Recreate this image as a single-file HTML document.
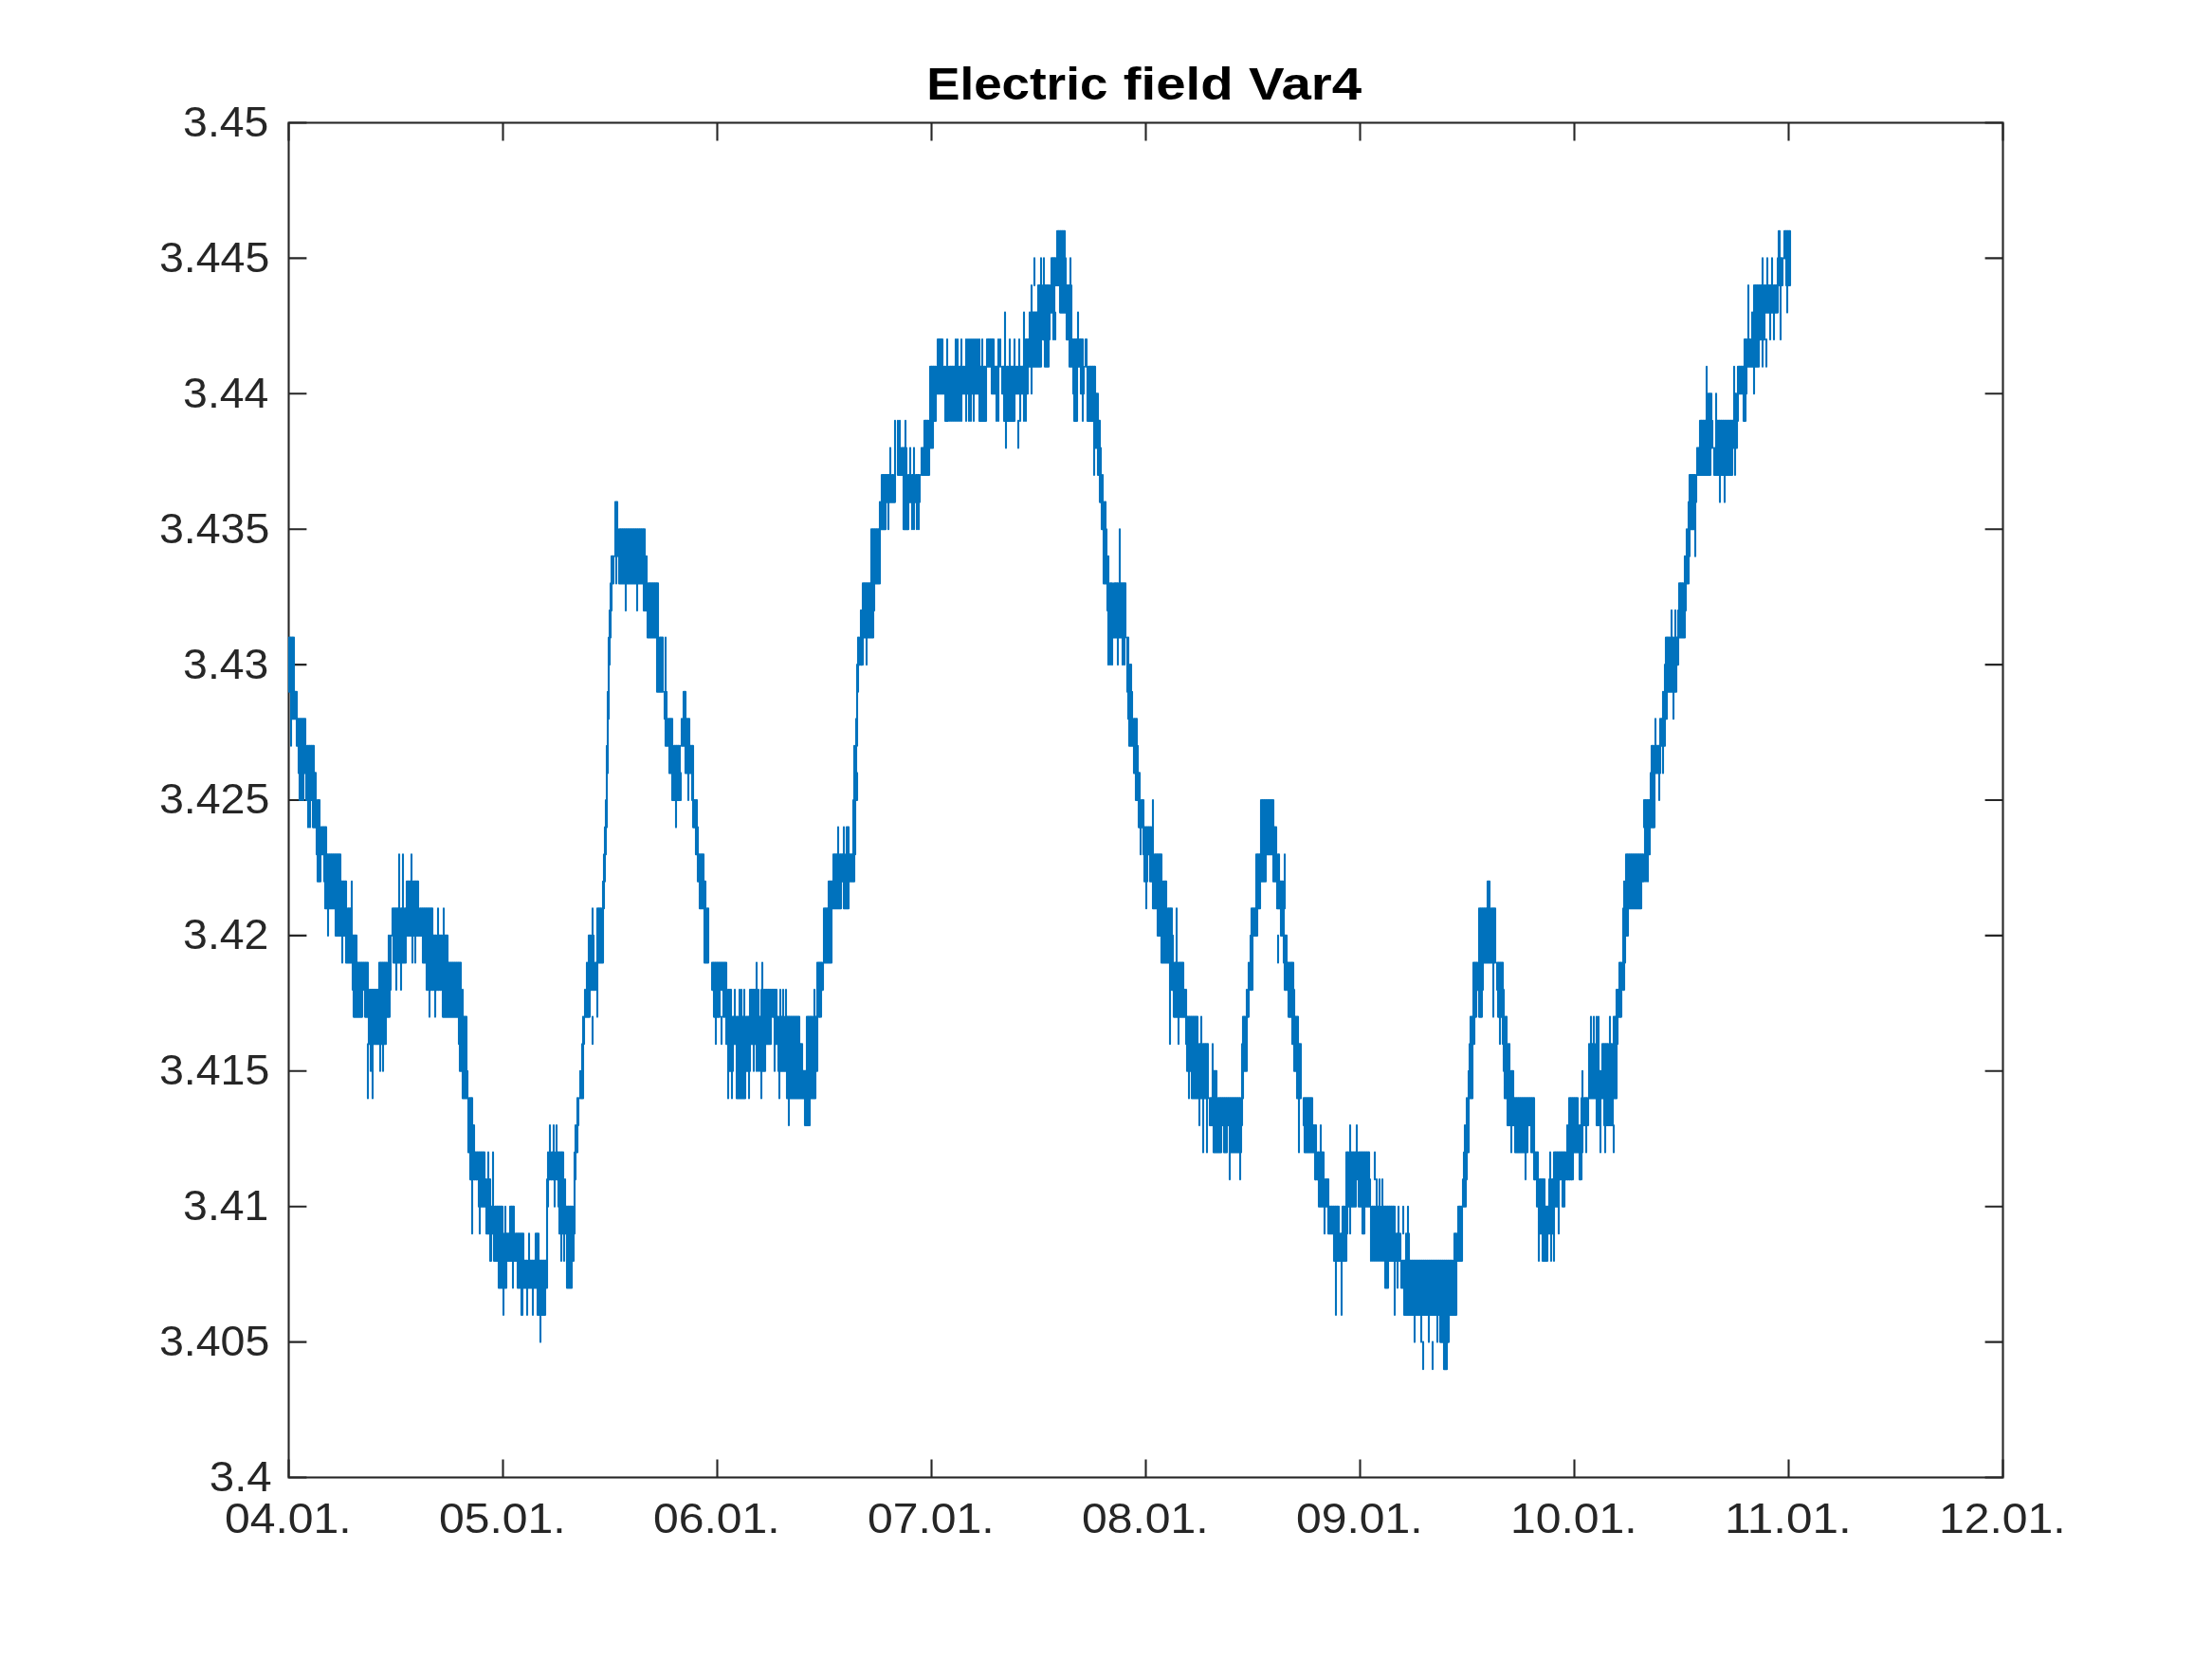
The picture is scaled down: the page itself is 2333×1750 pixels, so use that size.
<!DOCTYPE html>
<html><head><meta charset="utf-8"><title>Electric field Var4</title>
<style>
html,body{margin:0;padding:0;background:#fff;}
body{width:2333px;height:1750px;overflow:hidden;font-family:"Liberation Sans",sans-serif;}
svg{display:block;}
.tl{font-family:"Liberation Sans",sans-serif;font-size:44.5px;fill:#262626;}
.tt{font-family:"Liberation Sans",sans-serif;font-size:48px;font-weight:bold;fill:#000;}
</style></head><body>
<svg width="2333" height="1750" viewBox="0 0 2333 1750">
<rect width="2333" height="1750" fill="#fff"/>
<rect x="304.5" y="129.5" width="1808.0" height="1429.0" fill="none" stroke="#262626" stroke-width="2.1"/>
<path d="M304.5,1558.5v-18.9M304.5,129.5v18.9M530.5,1558.5v-18.9M530.5,129.5v18.9M756.5,1558.5v-18.9M756.5,129.5v18.9M982.5,1558.5v-18.9M982.5,129.5v18.9M1208.5,1558.5v-18.9M1208.5,129.5v18.9M1434.5,1558.5v-18.9M1434.5,129.5v18.9M1660.5,1558.5v-18.9M1660.5,129.5v18.9M1886.5,1558.5v-18.9M1886.5,129.5v18.9M2112.5,1558.5v-18.9M2112.5,129.5v18.9M304.5,1558.5h18.9M2112.5,1558.5h-18.9M304.5,1415.6h18.9M2112.5,1415.6h-18.9M304.5,1272.7h18.9M2112.5,1272.7h-18.9M304.5,1129.8h18.9M2112.5,1129.8h-18.9M304.5,986.9h18.9M2112.5,986.9h-18.9M304.5,844h18.9M2112.5,844h-18.9M304.5,701.1h18.9M2112.5,701.1h-18.9M304.5,558.2h18.9M2112.5,558.2h-18.9M304.5,415.3h18.9M2112.5,415.3h-18.9M304.5,272.4h18.9M2112.5,272.4h-18.9M304.5,129.5h18.9M2112.5,129.5h-18.9" stroke="#262626" stroke-width="2.1" fill="none"/>
<path d="M305,701.1 305,672.5 305,729.7 306,729.7 306,672.5 307,672.5 307,729.7 308,729.7 308,672.5 309,672.5 309,729.7 310,729.7 310,672.5 310,701.1M307,729.7V786.8M308,744 308,729.7 308,758.3 309,758.3 309,729.7 310,729.7 310,758.3 311,758.3 311,729.7 312,729.7 312,758.3 313,758.3 313,729.7 313,744M313,772.5 313,758.3 313,786.8 314,786.8 314,758.3 315,758.3 315,786.8 316,786.8 316,758.3 317,758.3 317,786.8 318,786.8 318,758.3 319,758.3 319,786.8 320,786.8 320,758.3 321,758.3 321,786.8 322,786.8 322,758.3 322,772.5M315,801.1 315,786.8 315,815.4 316,815.4 316,786.8 317,786.8 317,815.4 318,815.4 318,786.8 319,786.8 319,815.4 320,815.4 320,786.8 321,786.8 321,815.4 322,815.4 322,786.8 323,786.8 323,815.4 324,815.4 324,786.8 325,786.8 325,815.4 326,815.4 326,786.8 327,786.8 327,815.4 328,815.4 328,786.8 329,786.8 329,815.4 330,815.4 330,786.8 331,786.8 331,815.4 331,801.1M316,815.4V844M318,815.4V844M320,815.4V844M323,829.7 323,815.4 323,844 324,844 324,815.4 325,815.4 325,844 326,844 326,815.4 327,815.4 327,844 328,844 328,815.4 329,815.4 329,844 330,844 330,815.4 331,815.4 331,844 332,844 332,815.4 333,815.4 333,844 333,829.7M325,844V872.6M327,844V872.6M330,858.3 330,844 330,872.6 331,872.6 331,844 332,844 332,872.6 333,872.6 333,844 334,844 334,872.6 335,872.6 335,844 336,844 336,872.6 337,872.6 337,844 337,858.3M334,886.9 334,872.6 334,901.2 335,901.2 335,872.6 336,872.6 336,901.2 337,901.2 337,872.6 338,872.6 338,901.2 339,901.2 339,872.6 340,872.6 340,901.2 341,901.2 341,872.6 342,872.6 342,901.2 343,901.2 343,872.6 344,872.6 344,901.2 344,886.9M335,915.5 335,901.2 335,929.7 336,929.7 336,901.2 337,901.2 337,929.7 338,929.7 338,901.2 338,915.5M342,915.5 342,901.2 342,929.7 343,929.7 343,901.2 344,901.2 344,929.7 345,929.7 345,901.2 346,901.2 346,929.7 347,929.7 347,901.2 348,901.2 348,929.7 349,929.7 349,901.2 350,901.2 350,929.7 351,929.7 351,901.2 352,901.2 352,929.7 353,929.7 353,901.2 354,901.2 354,929.7 355,929.7 355,901.2 356,901.2 356,929.7 357,929.7 357,901.2 358,901.2 358,929.7 359,929.7 359,901.2 359,915.5M343,944 343,929.7 343,958.3 344,958.3 344,929.7 345,929.7 345,958.3 346,958.3 346,929.7 347,929.7 347,958.3 348,958.3 348,929.7 349,929.7 349,958.3 350,958.3 350,929.7 351,929.7 351,958.3 352,958.3 352,929.7 353,929.7 353,958.3 354,958.3 354,929.7 355,929.7 355,958.3 356,958.3 356,929.7 357,929.7 357,958.3 358,958.3 358,929.7 359,929.7 359,958.3 360,958.3 360,929.7 361,929.7 361,958.3 362,958.3 362,929.7 363,929.7 363,958.3 364,958.3 364,929.7 365,929.7 365,958.3 365,944M371,929.7V986.9M346,958.3V986.9M354,972.6 354,958.3 354,986.9 355,986.9 355,958.3 356,958.3 356,986.9 357,986.9 357,958.3 358,958.3 358,986.9 359,986.9 359,958.3 360,958.3 360,986.9 361,986.9 361,958.3 362,958.3 362,986.9 363,986.9 363,958.3 364,958.3 364,986.9 365,986.9 365,958.3 366,958.3 366,986.9 367,986.9 367,958.3 368,958.3 368,986.9 369,986.9 369,958.3 370,958.3 370,986.9 370,972.6M361,986.9V1015.5M365,1001.2 365,986.9 365,1015.5 366,1015.5 366,986.9 367,986.9 367,1015.5 368,1015.5 368,986.9 369,986.9 369,1015.5 370,1015.5 370,986.9 371,986.9 371,1015.5 372,1015.5 372,986.9 373,986.9 373,1015.5 374,1015.5 374,986.9 375,986.9 375,1015.5 376,1015.5 376,986.9 376,1001.2M372,1029.8 372,1015.5 372,1044.1 373,1044.1 373,1015.5 374,1015.5 374,1044.1 375,1044.1 375,1015.5 376,1015.5 376,1044.1 377,1044.1 377,1015.5 378,1015.5 378,1044.1 379,1044.1 379,1015.5 380,1015.5 380,1044.1 381,1044.1 381,1015.5 382,1015.5 382,1044.1 383,1044.1 383,1015.5 384,1015.5 384,1044.1 385,1044.1 385,1015.5 386,1015.5 386,1044.1 387,1044.1 387,1015.5 388,1015.5 388,1044.1 388,1029.8M373,1058.3 373,1044.1 373,1072.6 374,1072.6 374,1044.1 375,1044.1 375,1072.6 376,1072.6 376,1044.1 377,1044.1 377,1072.6 378,1072.6 378,1044.1 379,1044.1 379,1072.6 380,1072.6 380,1044.1 381,1044.1 381,1072.6 382,1072.6 382,1044.1 382,1058.3M385,1058.3 385,1044.1 385,1072.6 386,1072.6 386,1044.1 387,1044.1 387,1072.6 388,1072.6 388,1044.1 389,1044.1 389,1072.6 390,1072.6 390,1044.1 391,1044.1 391,1072.6 392,1072.6 392,1044.1 393,1044.1 393,1072.6 394,1072.6 394,1044.1 395,1044.1 395,1072.6 396,1072.6 396,1044.1 397,1044.1 397,1072.6 398,1072.6 398,1044.1 399,1044.1 399,1072.6 400,1072.6 400,1044.1 401,1044.1 401,1072.6 402,1072.6 402,1044.1 403,1044.1 403,1072.6 404,1072.6 404,1044.1 405,1044.1 405,1072.6 406,1072.6 406,1044.1 407,1044.1 407,1072.6 408,1072.6 408,1044.1 409,1044.1 409,1072.6 410,1072.6 410,1044.1 411,1044.1 411,1072.6 411,1058.3M389,1086.9 389,1072.6 389,1101.2 390,1101.2 390,1072.6 391,1072.6 391,1101.2 392,1101.2 392,1072.6 393,1072.6 393,1101.2 394,1101.2 394,1072.6 395,1072.6 395,1101.2 396,1101.2 396,1072.6 397,1072.6 397,1101.2 398,1101.2 398,1072.6 399,1072.6 399,1101.2 400,1101.2 400,1072.6 401,1072.6 401,1101.2 402,1101.2 402,1072.6 403,1072.6 403,1101.2 404,1101.2 404,1072.6 405,1072.6 405,1101.2 406,1101.2 406,1072.6 407,1072.6 407,1101.2 407,1086.9M388,1101.2V1158.4M391,1101.2V1129.8M393,1101.2V1158.4M401,1101.2V1129.8M404,1101.2V1129.8M400,1029.8 400,1015.5 400,1044.1 401,1044.1 401,1015.5 402,1015.5 402,1044.1 403,1044.1 403,1015.5 404,1015.5 404,1044.1 405,1044.1 405,1015.5 406,1015.5 406,1044.1 407,1044.1 407,1015.5 408,1015.5 408,1044.1 409,1044.1 409,1015.5 410,1015.5 410,1044.1 411,1044.1 411,1015.5 412,1015.5 412,1044.1 412,1029.8M410,986.9V1015.5M412,986.9V1015.5M415,1001.2 415,986.9 415,1015.5 416,1015.5 416,986.9 417,986.9 417,1015.5 418,1015.5 418,986.9 419,986.9 419,1015.5 420,1015.5 420,986.9 421,986.9 421,1015.5 422,1015.5 422,986.9 423,986.9 423,1015.5 424,1015.5 424,986.9 425,986.9 425,1015.5 426,1015.5 426,986.9 427,986.9 427,1015.5 428,1015.5 428,986.9 428,1001.2M414,972.6 414,958.3 414,986.9 415,986.9 415,958.3 416,958.3 416,986.9 417,986.9 417,958.3 418,958.3 418,986.9 419,986.9 419,958.3 420,958.3 420,986.9 421,986.9 421,958.3 422,958.3 422,986.9 423,986.9 423,958.3 424,958.3 424,986.9 425,986.9 425,958.3 426,958.3 426,986.9 427,986.9 427,958.3 428,958.3 428,986.9 429,986.9 429,958.3 430,958.3 430,986.9 431,986.9 431,958.3 432,958.3 432,986.9 433,986.9 433,958.3 434,958.3 434,986.9 435,986.9 435,958.3 436,958.3 436,986.9 437,986.9 437,958.3 438,958.3 438,986.9 439,986.9 439,958.3 440,958.3 440,986.9 441,986.9 441,958.3 442,958.3 442,986.9 443,986.9 443,958.3 444,958.3 444,986.9 445,986.9 445,958.3 446,958.3 446,986.9 447,986.9 447,958.3 448,958.3 448,986.9 449,986.9 449,958.3 450,958.3 450,986.9 451,986.9 451,958.3 452,958.3 452,986.9 453,986.9 453,958.3 454,958.3 454,986.9 455,986.9 455,958.3 456,958.3 456,986.9 456,972.6M418,1015.5V1044.1M423,1015.5V1044.1M421,901.2V958.3M425,901.2V958.3M434,901.2V958.3M429,944 429,929.7 429,958.3 430,958.3 430,929.7 431,929.7 431,958.3 432,958.3 432,929.7 433,929.7 433,958.3 434,958.3 434,929.7 435,929.7 435,958.3 436,958.3 436,929.7 437,929.7 437,958.3 438,958.3 438,929.7 439,929.7 439,958.3 440,958.3 440,929.7 441,929.7 441,958.3 441,944M435,986.9V1015.5M438,986.9V1015.5M446,1001.2 446,986.9 446,1015.5 447,1015.5 447,986.9 448,986.9 448,1015.5 449,1015.5 449,986.9 450,986.9 450,1015.5 451,1015.5 451,986.9 452,986.9 452,1015.5 453,1015.5 453,986.9 454,986.9 454,1015.5 455,1015.5 455,986.9 456,986.9 456,1015.5 457,1015.5 457,986.9 458,986.9 458,1015.5 459,1015.5 459,986.9 460,986.9 460,1015.5 461,1015.5 461,986.9 462,986.9 462,1015.5 463,1015.5 463,986.9 464,986.9 464,1015.5 465,1015.5 465,986.9 466,986.9 466,1015.5 467,1015.5 467,986.9 468,986.9 468,1015.5 469,1015.5 469,986.9 470,986.9 470,1015.5 471,1015.5 471,986.9 472,986.9 472,1015.5 472,1001.2M462,958.3V986.9M468,958.3V986.9M450,1029.8 450,1015.5 450,1044.1 451,1044.1 451,1015.5 452,1015.5 452,1044.1 453,1044.1 453,1015.5 454,1015.5 454,1044.1 455,1044.1 455,1015.5 456,1015.5 456,1044.1 457,1044.1 457,1015.5 458,1015.5 458,1044.1 459,1044.1 459,1015.5 460,1015.5 460,1044.1 461,1044.1 461,1015.5 462,1015.5 462,1044.1 463,1044.1 463,1015.5 464,1015.5 464,1044.1 465,1044.1 465,1015.5 466,1015.5 466,1044.1 467,1044.1 467,1015.5 468,1015.5 468,1044.1 469,1044.1 469,1015.5 470,1015.5 470,1044.1 471,1044.1 471,1015.5 472,1015.5 472,1044.1 473,1044.1 473,1015.5 474,1015.5 474,1044.1 475,1044.1 475,1015.5 476,1015.5 476,1044.1 477,1044.1 477,1015.5 478,1015.5 478,1044.1 479,1044.1 479,1015.5 480,1015.5 480,1044.1 481,1044.1 481,1015.5 482,1015.5 482,1044.1 483,1044.1 483,1015.5 484,1015.5 484,1044.1 485,1044.1 485,1015.5 486,1015.5 486,1044.1 486,1029.8M453,1044.1V1072.6M459,1044.1V1072.6M467,1058.3 467,1044.1 467,1072.6 468,1072.6 468,1044.1 469,1044.1 469,1072.6 470,1072.6 470,1044.1 471,1044.1 471,1072.6 472,1072.6 472,1044.1 473,1044.1 473,1072.6 474,1072.6 474,1044.1 475,1044.1 475,1072.6 476,1072.6 476,1044.1 477,1044.1 477,1072.6 478,1072.6 478,1044.1 479,1044.1 479,1072.6 480,1072.6 480,1044.1 481,1044.1 481,1072.6 482,1072.6 482,1044.1 483,1044.1 483,1072.6 484,1072.6 484,1044.1 485,1044.1 485,1072.6 486,1072.6 486,1044.1 487,1044.1 487,1072.6 488,1072.6 488,1044.1 488,1058.3M484,1086.9 484,1072.6 484,1101.2 485,1101.2 485,1072.6 486,1072.6 486,1101.2 487,1101.2 487,1072.6 488,1072.6 488,1101.2 489,1101.2 489,1072.6 490,1072.6 490,1101.2 491,1101.2 491,1072.6 492,1072.6 492,1101.2 492,1086.9M485,1115.5 485,1101.2 485,1129.8 486,1129.8 486,1101.2 487,1101.2 487,1129.8 488,1129.8 488,1101.2 489,1101.2 489,1129.8 490,1129.8 490,1101.2 491,1101.2 491,1129.8 492,1129.8 492,1101.2 492,1115.5M488,1144.1 488,1129.8 488,1158.4 489,1158.4 489,1129.8 490,1129.8 490,1158.4 491,1158.4 491,1129.8 492,1129.8 492,1158.4 493,1158.4 493,1129.8 493,1144.1M494,1172.7 494,1158.4 494,1187 495,1187 495,1158.4 496,1158.4 496,1187 497,1187 497,1158.4 498,1158.4 498,1187 498,1172.7M494,1201.2 494,1187 494,1215.5 495,1215.5 495,1187 496,1187 496,1215.5 497,1215.5 497,1187 498,1187 498,1215.5 499,1215.5 499,1187 500,1187 500,1215.5 500,1201.2M496,1229.8 496,1215.5 496,1244.1 497,1244.1 497,1215.5 498,1215.5 498,1244.1 499,1244.1 499,1215.5 500,1215.5 500,1244.1 501,1244.1 501,1215.5 502,1215.5 502,1244.1 503,1244.1 503,1215.5 504,1215.5 504,1244.1 505,1244.1 505,1215.5 506,1215.5 506,1244.1 507,1244.1 507,1215.5 508,1215.5 508,1244.1 509,1244.1 509,1215.5 510,1215.5 510,1244.1 511,1244.1 511,1215.5 511,1229.8M515,1215.5V1244.1M520,1215.5V1272.7M498,1244.1V1301.3M506,1244.1V1301.3M505,1258.4 505,1244.1 505,1272.7 506,1272.7 506,1244.1 507,1244.1 507,1272.7 508,1272.7 508,1244.1 509,1244.1 509,1272.7 510,1272.7 510,1244.1 511,1244.1 511,1272.7 512,1272.7 512,1244.1 513,1244.1 513,1272.7 514,1272.7 514,1244.1 515,1244.1 515,1272.7 516,1272.7 516,1244.1 517,1244.1 517,1272.7 517,1258.4M513,1287 513,1272.7 513,1301.3 514,1301.3 514,1272.7 515,1272.7 515,1301.3 516,1301.3 516,1272.7 517,1272.7 517,1301.3 518,1301.3 518,1272.7 519,1272.7 519,1301.3 520,1301.3 520,1272.7 521,1272.7 521,1301.3 522,1301.3 522,1272.7 523,1272.7 523,1301.3 524,1301.3 524,1272.7 525,1272.7 525,1301.3 526,1301.3 526,1272.7 527,1272.7 527,1301.3 528,1301.3 528,1272.7 529,1272.7 529,1301.3 530,1301.3 530,1272.7 530,1287M533,1272.7V1301.3M538,1287 538,1272.7 538,1301.3 539,1301.3 539,1272.7 540,1272.7 540,1301.3 541,1301.3 541,1272.7 542,1272.7 542,1301.3 542,1287M517,1315.6 517,1301.3 517,1329.9 518,1329.9 518,1301.3 518,1315.6M521,1315.6 521,1301.3 521,1329.9 522,1329.9 522,1301.3 523,1301.3 523,1329.9 524,1329.9 524,1301.3 525,1301.3 525,1329.9 526,1329.9 526,1301.3 527,1301.3 527,1329.9 528,1329.9 528,1301.3 529,1301.3 529,1329.9 530,1329.9 530,1301.3 531,1301.3 531,1329.9 532,1329.9 532,1301.3 533,1301.3 533,1329.9 534,1329.9 534,1301.3 535,1301.3 535,1329.9 536,1329.9 536,1301.3 537,1301.3 537,1329.9 538,1329.9 538,1301.3 539,1301.3 539,1329.9 540,1329.9 540,1301.3 541,1301.3 541,1329.9 542,1329.9 542,1301.3 543,1301.3 543,1329.9 544,1329.9 544,1301.3 545,1301.3 545,1329.9 546,1329.9 546,1301.3 547,1301.3 547,1329.9 548,1329.9 548,1301.3 549,1301.3 549,1329.9 550,1329.9 550,1301.3 551,1301.3 551,1329.9 552,1329.9 552,1301.3 552,1315.6M558,1301.3V1329.9M565,1315.6 565,1301.3 565,1329.9 566,1329.9 566,1301.3 567,1301.3 567,1329.9 568,1329.9 568,1301.3 568,1315.6M526,1344.2 526,1329.9 526,1358.4 527,1358.4 527,1329.9 528,1329.9 528,1358.4 529,1358.4 529,1329.9 530,1329.9 530,1358.4 531,1358.4 531,1329.9 532,1329.9 532,1358.4 533,1358.4 533,1329.9 534,1329.9 534,1358.4 534,1344.2M541,1329.9V1358.4M546,1344.2 546,1329.9 546,1358.4 547,1358.4 547,1329.9 548,1329.9 548,1358.4 549,1358.4 549,1329.9 550,1329.9 550,1358.4 551,1358.4 551,1329.9 552,1329.9 552,1358.4 553,1358.4 553,1329.9 554,1329.9 554,1358.4 555,1358.4 555,1329.9 556,1329.9 556,1358.4 557,1358.4 557,1329.9 558,1329.9 558,1358.4 559,1358.4 559,1329.9 560,1329.9 560,1358.4 561,1358.4 561,1329.9 562,1329.9 562,1358.4 563,1358.4 563,1329.9 564,1329.9 564,1358.4 565,1358.4 565,1329.9 566,1329.9 566,1358.4 567,1358.4 567,1329.9 568,1329.9 568,1358.4 569,1358.4 569,1329.9 570,1329.9 570,1358.4 571,1358.4 571,1329.9 572,1329.9 572,1358.4 573,1358.4 573,1329.9 574,1329.9 574,1358.4 575,1358.4 575,1329.9 576,1329.9 576,1358.4 577,1358.4 577,1329.9 577,1344.2M531,1358.4V1387M550,1372.7 550,1358.4 550,1387 551,1387 551,1358.4 551,1372.7M556,1358.4V1387M562,1358.4V1387M567,1372.7 567,1358.4 567,1387 568,1387 568,1358.4 569,1358.4 569,1387 570,1387 570,1358.4 571,1358.4 571,1387 572,1387 572,1358.4 573,1358.4 573,1387 574,1387 574,1358.4 575,1358.4 575,1387 575,1372.7M570,1387V1415.6M577,1301.3 577,1272.7 577,1329.9 577,1301.3M577,1258.4 577,1244.1 577,1272.7 578,1272.7 578,1244.1 578,1258.4M578,1229.8 578,1215.5 578,1244.1 578,1229.8M579,1229.8 579,1215.5 579,1244.1 580,1244.1 580,1215.5 581,1215.5 581,1244.1 582,1244.1 582,1215.5 583,1215.5 583,1244.1 584,1244.1 584,1215.5 585,1215.5 585,1244.1 586,1244.1 586,1215.5 587,1215.5 587,1244.1 588,1244.1 588,1215.5 589,1215.5 589,1244.1 590,1244.1 590,1215.5 591,1215.5 591,1244.1 592,1244.1 592,1215.5 593,1215.5 593,1244.1 594,1244.1 594,1215.5 594,1229.8M580,1187V1215.5M584,1187V1215.5M587,1187V1215.5M585,1244.1V1272.7M589,1258.4 589,1244.1 589,1272.7 590,1272.7 590,1244.1 591,1244.1 591,1272.7 592,1272.7 592,1244.1 593,1244.1 593,1272.7 594,1272.7 594,1244.1 595,1244.1 595,1272.7 596,1272.7 596,1244.1 596,1258.4M590,1287 590,1272.7 590,1301.3 591,1301.3 591,1272.7 592,1272.7 592,1301.3 593,1301.3 593,1272.7 594,1272.7 594,1301.3 595,1301.3 595,1272.7 596,1272.7 596,1301.3 597,1301.3 597,1272.7 598,1272.7 598,1301.3 599,1301.3 599,1272.7 600,1272.7 600,1301.3 601,1301.3 601,1272.7 602,1272.7 602,1301.3 603,1301.3 603,1272.7 604,1272.7 604,1301.3 605,1301.3 605,1272.7 606,1272.7 606,1301.3 606,1287M592,1301.3V1329.9M595,1301.3V1329.9M598,1315.6 598,1301.3 598,1329.9 599,1329.9 599,1301.3 600,1301.3 600,1329.9 601,1329.9 601,1301.3 602,1301.3 602,1329.9 603,1329.9 603,1301.3 604,1301.3 604,1329.9 605,1329.9 605,1301.3 605,1315.6M598,1344.2 598,1329.9 598,1358.4 599,1358.4 599,1329.9 600,1329.9 600,1358.4 601,1358.4 601,1329.9 602,1329.9 602,1358.4 603,1358.4 603,1329.9 603,1344.2M606,1258.4 606,1244.1 606,1272.7 606,1258.4M606,1229.8 606,1215.5 606,1244.1 607,1244.1 607,1215.5 607,1229.8M607,1201.2 607,1187 607,1215.5 608,1215.5 608,1187 609,1187 609,1215.5 609,1201.2M609,1172.7 609,1158.4 609,1187 610,1187 610,1158.4 610,1172.7M612,1144.1 612,1129.8 612,1158.4 613,1158.4 613,1129.8 614,1129.8 614,1158.4 615,1158.4 615,1129.8 615,1144.1M614,1115.5 614,1101.2 614,1129.8 615,1129.8 615,1101.2 615,1115.5M615,1086.9 615,1072.6 615,1101.2 616,1101.2 616,1072.6 616,1086.9M617,1058.3 617,1044.1 617,1072.6 618,1072.6 618,1044.1 619,1044.1 619,1072.6 620,1072.6 620,1044.1 621,1044.1 621,1072.6 622,1072.6 622,1044.1 622,1058.3M619,1029.8 619,1015.5 619,1044.1 620,1044.1 620,1015.5 621,1015.5 621,1044.1 622,1044.1 622,1015.5 623,1015.5 623,1044.1 624,1044.1 624,1015.5 625,1015.5 625,1044.1 626,1044.1 626,1015.5 627,1015.5 627,1044.1 628,1044.1 628,1015.5 629,1015.5 629,1044.1 630,1044.1 630,1015.5 630,1029.8M625,1072.6V1101.2M630,1044.1V1072.6M621,1001.2 621,986.9 621,1015.5 622,1015.5 622,986.9 623,986.9 623,1015.5 624,1015.5 624,986.9 625,986.9 625,1015.5 626,1015.5 626,986.9 626,1001.2M625,958.3V986.9M630,986.9 630,958.3 630,1015.5 631,1015.5 631,958.3 632,958.3 632,1015.5 633,1015.5 633,958.3 634,958.3 634,1015.5 635,1015.5 635,958.3 636,958.3 636,1015.5 636,986.9M636,944 636,929.7 636,958.3 637,958.3 637,929.7 637,944M637,915.5 637,901.2 637,929.7 638,929.7 638,901.2 638,915.5M638,886.9 638,872.6 638,901.2 639,901.2 639,872.6 639,886.9M639,858.3 639,844 639,872.6 640,872.6 640,844 640,858.3M640,829.7 640,815.4 640,844 640,829.7M640,801.1 640,786.8 640,815.4 641,815.4 641,786.8 641,801.1M641,772.5 641,758.3 641,786.8 641,772.5M641,744 641,729.7 641,758.3 642,758.3 642,729.7 642,744M642,715.4 642,701.1 642,729.7 642,715.4M642,686.8 642,672.5 642,701.1 643,701.1 643,672.5 643,686.8M643,658.2 643,643.9 643,672.5 644,672.5 644,643.9 644,658.2M644,629.7 644,615.4 644,643.9 645,643.9 645,615.4 645,629.7M645,601.1 645,586.8 645,615.4 646,615.4 646,586.8 647,586.8 647,615.4 647,601.1M649,558.2 649,529.6 649,586.8 650,586.8 650,529.6 651,529.6 651,586.8 651,558.2M650,586.8V615.4M653,586.8 653,558.2 653,615.4 654,615.4 654,558.2 655,558.2 655,615.4 656,615.4 656,558.2 657,558.2 657,615.4 658,615.4 658,558.2 659,558.2 659,615.4 660,615.4 660,558.2 661,558.2 661,615.4 662,615.4 662,558.2 663,558.2 663,615.4 664,615.4 664,558.2 665,558.2 665,615.4 666,615.4 666,558.2 667,558.2 667,615.4 668,615.4 668,558.2 669,558.2 669,615.4 670,615.4 670,558.2 671,558.2 671,615.4 672,615.4 672,558.2 673,558.2 673,615.4 674,615.4 674,558.2 675,558.2 675,615.4 676,615.4 676,558.2 677,558.2 677,615.4 678,615.4 678,558.2 679,558.2 679,615.4 680,615.4 680,558.2 680,586.8M660,615.4V643.9M672,615.4V643.9M679,615.4 679,586.8 679,643.9 680,643.9 680,586.8 681,586.8 681,643.9 682,643.9 682,586.8 682,615.4M683,643.9 683,615.4 683,672.5 684,672.5 684,615.4 685,615.4 685,672.5 686,672.5 686,615.4 687,615.4 687,672.5 688,672.5 688,615.4 689,615.4 689,672.5 690,672.5 690,615.4 691,615.4 691,672.5 692,672.5 692,615.4 693,615.4 693,672.5 694,672.5 694,615.4 694,643.9M693,701.1 693,672.5 693,729.7 694,729.7 694,672.5 695,672.5 695,729.7 696,729.7 696,672.5 697,672.5 697,729.7 698,729.7 698,672.5 699,672.5 699,729.7 699,701.1M702,672.5V729.7M701,744 701,729.7 701,758.3 702,758.3 702,729.7 703,729.7 703,758.3 703,744M702,772.5 702,758.3 702,786.8 703,786.8 703,758.3 704,758.3 704,786.8 705,786.8 705,758.3 706,758.3 706,786.8 707,786.8 707,758.3 708,758.3 708,786.8 709,786.8 709,758.3 709,772.5M706,801.1 706,786.8 706,815.4 707,815.4 707,786.8 708,786.8 708,815.4 709,815.4 709,786.8 710,786.8 710,815.4 711,815.4 711,786.8 712,786.8 712,815.4 713,815.4 713,786.8 714,786.8 714,815.4 715,815.4 715,786.8 716,786.8 716,815.4 717,815.4 717,786.8 717,801.1M721,744 721,729.7 721,758.3 722,758.3 722,729.7 723,729.7 723,758.3 723,744M719,772.5 719,758.3 719,786.8 720,786.8 720,758.3 721,758.3 721,786.8 722,786.8 722,758.3 723,758.3 723,786.8 724,786.8 724,758.3 725,758.3 725,786.8 726,786.8 726,758.3 727,758.3 727,786.8 727,772.5M723,801.1 723,786.8 723,815.4 724,815.4 724,786.8 725,786.8 725,815.4 726,815.4 726,786.8 727,786.8 727,815.4 728,815.4 728,786.8 729,786.8 729,815.4 730,815.4 730,786.8 731,786.8 731,815.4 731,801.1M709,829.7 709,815.4 709,844 710,844 710,815.4 711,815.4 711,844 712,844 712,815.4 713,815.4 713,844 714,844 714,815.4 715,815.4 715,844 716,844 716,815.4 717,815.4 717,844 718,844 718,815.4 718,829.7M713,844V872.6M726,815.4V844M730,829.7 730,815.4 730,844 731,844 731,815.4 731,829.7M731,858.3 731,844 731,872.6 732,872.6 732,844 733,844 733,872.6 734,872.6 734,844 735,844 735,872.6 735,858.3M734,886.9 734,872.6 734,901.2 735,901.2 735,872.6 736,872.6 736,901.2 736,886.9M736,915.5 736,901.2 736,929.7 737,929.7 737,901.2 738,901.2 738,929.7 739,929.7 739,901.2 740,901.2 740,929.7 741,929.7 741,901.2 742,901.2 742,929.7 742,915.5M738,944 738,929.7 738,958.3 739,958.3 739,929.7 740,929.7 740,958.3 741,958.3 741,929.7 742,929.7 742,958.3 743,958.3 743,929.7 744,929.7 744,958.3 744,944M743,986.9 743,958.3 743,1015.5 744,1015.5 744,958.3 745,958.3 745,1015.5 746,1015.5 746,958.3 747,958.3 747,1015.5 747,986.9M751,1029.8 751,1015.5 751,1044.1 752,1044.1 752,1015.5 753,1015.5 753,1044.1 754,1044.1 754,1015.5 755,1015.5 755,1044.1 756,1044.1 756,1015.5 757,1015.5 757,1044.1 758,1044.1 758,1015.5 759,1015.5 759,1044.1 760,1044.1 760,1015.5 761,1015.5 761,1044.1 762,1044.1 762,1015.5 763,1015.5 763,1044.1 764,1044.1 764,1015.5 765,1015.5 765,1044.1 766,1044.1 766,1015.5 766,1029.8M753,1058.3 753,1044.1 753,1072.6 754,1072.6 754,1044.1 755,1044.1 755,1072.6 756,1072.6 756,1044.1 757,1044.1 757,1072.6 758,1072.6 758,1044.1 759,1044.1 759,1072.6 759,1058.3M763,1058.3 763,1044.1 763,1072.6 764,1072.6 764,1044.1 765,1044.1 765,1072.6 766,1072.6 766,1044.1 767,1044.1 767,1072.6 768,1072.6 768,1044.1 769,1044.1 769,1072.6 770,1072.6 770,1044.1 771,1044.1 771,1072.6 771,1058.3M775,1044.1V1072.6M780,1044.1V1072.6M782,1044.1V1072.6M785,1044.1V1072.6M791,1058.3 791,1044.1 791,1072.6 792,1072.6 792,1044.1 793,1044.1 793,1072.6 794,1072.6 794,1044.1 795,1044.1 795,1072.6 796,1072.6 796,1044.1 797,1044.1 797,1072.6 798,1072.6 798,1044.1 799,1044.1 799,1072.6 800,1072.6 800,1044.1 800,1058.3M803,1058.3 803,1044.1 803,1072.6 804,1072.6 804,1044.1 805,1044.1 805,1072.6 806,1072.6 806,1044.1 807,1044.1 807,1072.6 808,1072.6 808,1044.1 809,1044.1 809,1072.6 810,1072.6 810,1044.1 811,1044.1 811,1072.6 812,1072.6 812,1044.1 813,1044.1 813,1072.6 814,1072.6 814,1044.1 815,1044.1 815,1072.6 816,1072.6 816,1044.1 817,1044.1 817,1072.6 818,1072.6 818,1044.1 819,1044.1 819,1072.6 819,1058.3M823,1044.1V1072.6M826,1044.1V1072.6M829,1044.1V1072.6M798,1015.5V1044.1M804,1015.5V1044.1M755,1072.6V1101.2M761,1072.6V1101.2M766,1086.9 766,1072.6 766,1101.2 767,1101.2 767,1072.6 768,1072.6 768,1101.2 769,1101.2 769,1072.6 770,1072.6 770,1101.2 771,1101.2 771,1072.6 772,1072.6 772,1101.2 773,1101.2 773,1072.6 774,1072.6 774,1101.2 775,1101.2 775,1072.6 776,1072.6 776,1101.2 777,1101.2 777,1072.6 778,1072.6 778,1101.2 779,1101.2 779,1072.6 780,1072.6 780,1101.2 781,1101.2 781,1072.6 782,1072.6 782,1101.2 783,1101.2 783,1072.6 784,1072.6 784,1101.2 785,1101.2 785,1072.6 786,1072.6 786,1101.2 787,1101.2 787,1072.6 788,1072.6 788,1101.2 789,1101.2 789,1072.6 790,1072.6 790,1101.2 791,1101.2 791,1072.6 792,1072.6 792,1101.2 793,1101.2 793,1072.6 794,1072.6 794,1101.2 795,1101.2 795,1072.6 796,1072.6 796,1101.2 797,1101.2 797,1072.6 798,1072.6 798,1101.2 799,1101.2 799,1072.6 800,1072.6 800,1101.2 801,1101.2 801,1072.6 802,1072.6 802,1101.2 803,1101.2 803,1072.6 804,1072.6 804,1101.2 805,1101.2 805,1072.6 806,1072.6 806,1101.2 807,1101.2 807,1072.6 808,1072.6 808,1101.2 809,1101.2 809,1072.6 810,1072.6 810,1101.2 811,1101.2 811,1072.6 812,1072.6 812,1101.2 813,1101.2 813,1072.6 813,1086.9M817,1086.9 817,1072.6 817,1101.2 818,1101.2 818,1072.6 819,1072.6 819,1101.2 820,1101.2 820,1072.6 821,1072.6 821,1101.2 822,1101.2 822,1072.6 823,1072.6 823,1101.2 824,1101.2 824,1072.6 825,1072.6 825,1101.2 826,1101.2 826,1072.6 827,1072.6 827,1101.2 828,1101.2 828,1072.6 829,1072.6 829,1101.2 830,1101.2 830,1072.6 831,1072.6 831,1101.2 832,1101.2 832,1072.6 833,1072.6 833,1101.2 834,1101.2 834,1072.6 835,1072.6 835,1101.2 836,1101.2 836,1072.6 837,1072.6 837,1101.2 838,1101.2 838,1072.6 839,1072.6 839,1101.2 840,1101.2 840,1072.6 841,1072.6 841,1101.2 842,1101.2 842,1072.6 843,1072.6 843,1101.2 843,1086.9M768,1115.5 768,1101.2 768,1129.8 769,1129.8 769,1101.2 770,1101.2 770,1129.8 771,1129.8 771,1101.2 772,1101.2 772,1129.8 773,1129.8 773,1101.2 773,1115.5M777,1115.5 777,1101.2 777,1129.8 778,1129.8 778,1101.2 779,1101.2 779,1129.8 780,1129.8 780,1101.2 781,1101.2 781,1129.8 782,1129.8 782,1101.2 783,1101.2 783,1129.8 784,1129.8 784,1101.2 785,1101.2 785,1129.8 786,1129.8 786,1101.2 787,1101.2 787,1129.8 788,1129.8 788,1101.2 789,1101.2 789,1129.8 790,1129.8 790,1101.2 791,1101.2 791,1129.8 791,1115.5M795,1101.2V1129.8M798,1101.2V1129.8M800,1101.2V1129.8M802,1115.5 802,1101.2 802,1129.8 803,1129.8 803,1101.2 804,1101.2 804,1129.8 805,1129.8 805,1101.2 806,1101.2 806,1129.8 807,1129.8 807,1101.2 807,1115.5M817,1101.2V1129.8M821,1115.5 821,1101.2 821,1129.8 822,1129.8 822,1101.2 823,1101.2 823,1129.8 824,1129.8 824,1101.2 825,1101.2 825,1129.8 826,1129.8 826,1101.2 827,1101.2 827,1129.8 828,1129.8 828,1101.2 829,1101.2 829,1129.8 830,1129.8 830,1101.2 831,1101.2 831,1129.8 832,1129.8 832,1101.2 833,1101.2 833,1129.8 834,1129.8 834,1101.2 835,1101.2 835,1129.8 836,1129.8 836,1101.2 837,1101.2 837,1129.8 838,1129.8 838,1101.2 839,1101.2 839,1129.8 840,1129.8 840,1101.2 841,1101.2 841,1129.8 842,1129.8 842,1101.2 843,1101.2 843,1129.8 844,1129.8 844,1101.2 845,1101.2 845,1129.8 846,1129.8 846,1101.2 846,1115.5M768,1129.8V1158.4M772,1129.8V1158.4M777,1144.1 777,1129.8 777,1158.4 778,1158.4 778,1129.8 779,1129.8 779,1158.4 780,1158.4 780,1129.8 781,1129.8 781,1158.4 782,1158.4 782,1129.8 783,1129.8 783,1158.4 784,1158.4 784,1129.8 785,1129.8 785,1158.4 786,1158.4 786,1129.8 786,1144.1M790,1129.8V1158.4M803,1129.8V1158.4M822,1129.8V1158.4M830,1144.1 830,1129.8 830,1158.4 831,1158.4 831,1129.8 832,1129.8 832,1158.4 833,1158.4 833,1129.8 834,1129.8 834,1158.4 835,1158.4 835,1129.8 836,1129.8 836,1158.4 837,1158.4 837,1129.8 838,1129.8 838,1158.4 839,1158.4 839,1129.8 840,1129.8 840,1158.4 841,1158.4 841,1129.8 842,1129.8 842,1158.4 843,1158.4 843,1129.8 844,1129.8 844,1158.4 845,1158.4 845,1129.8 846,1129.8 846,1158.4 847,1158.4 847,1129.8 848,1129.8 848,1158.4 849,1158.4 849,1129.8 850,1129.8 850,1158.4 851,1158.4 851,1129.8 852,1129.8 852,1158.4 853,1158.4 853,1129.8 854,1129.8 854,1158.4 855,1158.4 855,1129.8 856,1129.8 856,1158.4 857,1158.4 857,1129.8 858,1129.8 858,1158.4 859,1158.4 859,1129.8 860,1129.8 860,1158.4 860,1144.1M832,1158.4V1187M849,1172.7 849,1158.4 849,1187 850,1187 850,1158.4 851,1158.4 851,1187 852,1187 852,1158.4 853,1158.4 853,1187 854,1187 854,1158.4 854,1172.7M851,1101.2 851,1072.6 851,1129.8 852,1129.8 852,1072.6 853,1072.6 853,1129.8 854,1129.8 854,1072.6 855,1072.6 855,1129.8 856,1129.8 856,1072.6 857,1072.6 857,1129.8 858,1129.8 858,1072.6 859,1072.6 859,1129.8 860,1129.8 860,1072.6 861,1072.6 861,1129.8 862,1129.8 862,1072.6 862,1101.2M859,1044.1V1072.6M862,1044.1 862,1015.5 862,1072.6 863,1072.6 863,1015.5 864,1015.5 864,1072.6 865,1072.6 865,1015.5 866,1015.5 866,1072.6 866,1044.1M863,1029.8 863,1015.5 863,1044.1 864,1044.1 864,1015.5 865,1015.5 865,1044.1 866,1044.1 866,1015.5 867,1015.5 867,1044.1 868,1044.1 868,1015.5 868,1029.8M869,986.9 869,958.3 869,1015.5 870,1015.5 870,958.3 871,958.3 871,1015.5 872,1015.5 872,958.3 873,958.3 873,1015.5 874,1015.5 874,958.3 875,958.3 875,1015.5 876,1015.5 876,958.3 877,958.3 877,1015.5 877,986.9M874,944 874,929.7 874,958.3 875,958.3 875,929.7 876,929.7 876,958.3 877,958.3 877,929.7 878,929.7 878,958.3 879,958.3 879,929.7 880,929.7 880,958.3 881,958.3 881,929.7 882,929.7 882,958.3 883,958.3 883,929.7 884,929.7 884,958.3 885,958.3 885,929.7 886,929.7 886,958.3 887,958.3 887,929.7 887,944M890,944 890,929.7 890,958.3 891,958.3 891,929.7 892,929.7 892,958.3 893,958.3 893,929.7 894,929.7 894,958.3 895,958.3 895,929.7 895,944M879,915.5 879,901.2 879,929.7 880,929.7 880,901.2 881,901.2 881,929.7 882,929.7 882,901.2 883,901.2 883,929.7 884,929.7 884,901.2 885,901.2 885,929.7 886,929.7 886,901.2 887,901.2 887,929.7 888,929.7 888,901.2 889,901.2 889,929.7 890,929.7 890,901.2 891,901.2 891,929.7 892,929.7 892,901.2 893,901.2 893,929.7 894,929.7 894,901.2 895,901.2 895,929.7 896,929.7 896,901.2 897,901.2 897,929.7 898,929.7 898,901.2 899,901.2 899,929.7 900,929.7 900,901.2 901,901.2 901,929.7 901,915.5M884,872.6V901.2M890,872.6V901.2M893,886.9 893,872.6 893,901.2 894,901.2 894,872.6 895,872.6 895,901.2 895,886.9M900,872.6 900,844 900,901.2 901,901.2 901,844 902,844 902,901.2 902,872.6M901,829.7 901,815.4 901,844 902,844 902,815.4 903,815.4 903,844 904,844 904,815.4 904,829.7M901,801.1 901,786.8 901,815.4 902,815.4 902,786.8 903,786.8 903,815.4 903,801.1M903,772.5 903,758.3 903,786.8 904,786.8 904,758.3 904,772.5M904,744 904,729.7 904,758.3 904,744M904,715.4 904,701.1 904,729.7 905,729.7 905,701.1 905,715.4M905,686.8 905,672.5 905,701.1 906,701.1 906,672.5 906,686.8M906,686.8 906,672.5 906,701.1 907,701.1 907,672.5 908,672.5 908,701.1 909,701.1 909,672.5 910,672.5 910,701.1 910,686.8M914,672.5V701.1M908,658.2 908,643.9 908,672.5 909,672.5 909,643.9 910,643.9 910,672.5 911,672.5 911,643.9 912,643.9 912,672.5 913,672.5 913,643.9 914,643.9 914,672.5 915,672.5 915,643.9 916,643.9 916,672.5 917,672.5 917,643.9 918,643.9 918,672.5 919,672.5 919,643.9 920,643.9 920,672.5 921,672.5 921,643.9 921,658.2M910,629.7 910,615.4 910,643.9 911,643.9 911,615.4 912,615.4 912,643.9 913,643.9 913,615.4 914,615.4 914,643.9 915,643.9 915,615.4 916,615.4 916,643.9 917,643.9 917,615.4 918,615.4 918,643.9 919,643.9 919,615.4 920,615.4 920,643.9 921,643.9 921,615.4 922,615.4 922,643.9 922,629.7M919,586.8 919,558.2 919,615.4 920,615.4 920,558.2 921,558.2 921,615.4 922,615.4 922,558.2 923,558.2 923,615.4 924,615.4 924,558.2 925,558.2 925,615.4 926,615.4 926,558.2 927,558.2 927,615.4 928,615.4 928,558.2 928,586.8M928,543.9 928,529.6 928,558.2 929,558.2 929,529.6 930,529.6 930,558.2 931,558.2 931,529.6 932,529.6 932,558.2 933,558.2 933,529.6 934,529.6 934,558.2 934,543.9M937,529.6V558.2M930,515.3 930,501 930,529.6 931,529.6 931,501 932,501 932,529.6 933,529.6 933,501 934,501 934,529.6 935,529.6 935,501 936,501 936,529.6 937,529.6 937,501 938,501 938,529.6 939,529.6 939,501 940,501 940,529.6 941,529.6 941,501 942,501 942,529.6 943,529.6 943,501 944,501 944,529.6 944,515.3M953,543.9 953,529.6 953,558.2 954,558.2 954,529.6 955,529.6 955,558.2 956,558.2 956,529.6 957,529.6 957,558.2 958,558.2 958,529.6 958,543.9M962,529.6V558.2M964,529.6V558.2M967,529.6V558.2M969,529.6V558.2M953,515.3 953,501 953,529.6 954,529.6 954,501 955,501 955,529.6 956,529.6 956,501 957,501 957,529.6 958,529.6 958,501 959,501 959,529.6 960,529.6 960,501 961,501 961,529.6 962,529.6 962,501 963,501 963,529.6 964,529.6 964,501 965,501 965,529.6 966,529.6 966,501 967,501 967,529.6 968,529.6 968,501 969,501 969,529.6 970,529.6 970,501 970,515.3M939,472.5V501M944,443.9V501M947,443.9V501M949,443.9V501M948,486.8 948,472.5 948,501 949,501 949,472.5 950,472.5 950,501 951,501 951,472.5 952,472.5 952,501 953,501 953,472.5 954,472.5 954,501 955,501 955,472.5 956,472.5 956,501 956,486.8M955,443.9V472.5M960,472.5V501M964,472.5V501M972,486.8 972,472.5 972,501 973,501 973,472.5 974,472.5 974,501 975,501 975,472.5 976,472.5 976,501 977,501 977,472.5 978,472.5 978,501 979,501 979,472.5 980,472.5 980,501 980,486.8M975,458.2 975,443.9 975,472.5 976,472.5 976,443.9 977,443.9 977,472.5 978,472.5 978,443.9 979,443.9 979,472.5 980,472.5 980,443.9 981,443.9 981,472.5 982,472.5 982,443.9 983,443.9 983,472.5 984,472.5 984,443.9 984,458.2M981,415.3 981,386.7 981,443.9 982,443.9 982,386.7 983,386.7 983,443.9 984,443.9 984,386.7 985,386.7 985,443.9 986,443.9 986,386.7 987,386.7 987,443.9 987,415.3M981,401 981,386.7 981,415.3 982,415.3 982,386.7 983,386.7 983,415.3 984,415.3 984,386.7 985,386.7 985,415.3 986,415.3 986,386.7 987,386.7 987,415.3 988,415.3 988,386.7 989,386.7 989,415.3 990,415.3 990,386.7 991,386.7 991,415.3 992,415.3 992,386.7 993,386.7 993,415.3 994,415.3 994,386.7 995,386.7 995,415.3 996,415.3 996,386.7 997,386.7 997,415.3 998,415.3 998,386.7 999,386.7 999,415.3 1000,415.3 1000,386.7 1000,401M989,372.4 989,358.1 989,386.7 990,386.7 990,358.1 991,358.1 991,386.7 992,386.7 992,358.1 993,358.1 993,386.7 994,386.7 994,358.1 994,372.4M999,358.1V386.7M997,429.6 997,415.3 997,443.9 998,443.9 998,415.3 999,415.3 999,443.9 1000,443.9 1000,415.3 1000,429.6M1001,401 1001,386.7 1001,415.3 1002,415.3 1002,386.7 1003,386.7 1003,415.3 1004,415.3 1004,386.7 1005,386.7 1005,415.3 1006,415.3 1006,386.7 1007,386.7 1007,415.3 1008,415.3 1008,386.7 1009,386.7 1009,415.3 1010,415.3 1010,386.7 1011,386.7 1011,415.3 1012,415.3 1012,386.7 1013,386.7 1013,415.3 1014,415.3 1014,386.7 1015,386.7 1015,415.3 1016,415.3 1016,386.7 1017,386.7 1017,415.3 1018,415.3 1018,386.7 1019,386.7 1019,415.3 1020,415.3 1020,386.7 1021,386.7 1021,415.3 1022,415.3 1022,386.7 1023,386.7 1023,415.3 1024,415.3 1024,386.7 1025,386.7 1025,415.3 1026,415.3 1026,386.7 1027,386.7 1027,415.3 1028,415.3 1028,386.7 1029,386.7 1029,415.3 1030,415.3 1030,386.7 1031,386.7 1031,415.3 1032,415.3 1032,386.7 1033,386.7 1033,415.3 1034,415.3 1034,386.7 1035,386.7 1035,415.3 1036,415.3 1036,386.7 1037,386.7 1037,415.3 1038,415.3 1038,386.7 1039,386.7 1039,415.3 1040,415.3 1040,386.7 1040,401M1046,401 1046,386.7 1046,415.3 1047,415.3 1047,386.7 1048,386.7 1048,415.3 1049,415.3 1049,386.7 1050,386.7 1050,415.3 1051,415.3 1051,386.7 1052,386.7 1052,415.3 1053,415.3 1053,386.7 1053,401M1057,401 1057,386.7 1057,415.3 1058,415.3 1058,386.7 1059,386.7 1059,415.3 1060,415.3 1060,386.7 1061,386.7 1061,415.3 1062,415.3 1062,386.7 1063,386.7 1063,415.3 1064,415.3 1064,386.7 1065,386.7 1065,415.3 1066,415.3 1066,386.7 1067,386.7 1067,415.3 1068,415.3 1068,386.7 1069,386.7 1069,415.3 1070,415.3 1070,386.7 1071,386.7 1071,415.3 1072,415.3 1072,386.7 1073,386.7 1073,415.3 1074,415.3 1074,386.7 1075,386.7 1075,415.3 1076,415.3 1076,386.7 1077,386.7 1077,415.3 1078,415.3 1078,386.7 1079,386.7 1079,415.3 1080,415.3 1080,386.7 1081,386.7 1081,415.3 1082,415.3 1082,386.7 1083,386.7 1083,415.3 1084,415.3 1084,386.7 1084,401M1008,358.1V386.7M1010,358.1V386.7M1014,358.1V386.7M1019,358.1V386.7M1021,358.1V386.7M1023,358.1V386.7M1025,358.1V386.7M1027,358.1V386.7M1029,358.1V386.7M1031,358.1V386.7M1033,358.1V386.7M1036,358.1V386.7M1041,372.4 1041,358.1 1041,386.7 1042,386.7 1042,358.1 1043,358.1 1043,386.7 1044,386.7 1044,358.1 1045,358.1 1045,386.7 1046,386.7 1046,358.1 1047,358.1 1047,386.7 1048,386.7 1048,358.1 1048,372.4M1053,358.1V386.7M1055,358.1V386.7M1060,329.6V386.7M1065,358.1V386.7M1070,358.1V386.7M1075,358.1V386.7M1002,415.3V443.9M1004,415.3V443.9M1006,415.3V443.9M1008,415.3V443.9M1010,415.3V443.9M1012,415.3V443.9M1014,415.3V443.9M1019,415.3V443.9M1022,415.3V443.9M1024,415.3V443.9M1027,415.3V443.9M1033,429.6 1033,415.3 1033,443.9 1034,443.9 1034,415.3 1035,415.3 1035,443.9 1036,443.9 1036,415.3 1037,415.3 1037,443.9 1038,443.9 1038,415.3 1039,415.3 1039,443.9 1040,443.9 1040,415.3 1040,429.6M1051,415.3V443.9M1053,415.3V443.9M1059,429.6 1059,415.3 1059,443.9 1060,443.9 1060,415.3 1061,415.3 1061,443.9 1062,443.9 1062,415.3 1063,415.3 1063,443.9 1064,443.9 1064,415.3 1065,415.3 1065,443.9 1066,443.9 1066,415.3 1067,415.3 1067,443.9 1068,443.9 1068,415.3 1069,415.3 1069,443.9 1070,443.9 1070,415.3 1070,429.6M1076,415.3V443.9M1080,415.3V443.9M1082,415.3V443.9M1061,443.9V472.5M1074,443.9V472.5M1088,386.7V415.3M1080,329.6V386.7M1081,372.4 1081,358.1 1081,386.7 1082,386.7 1082,358.1 1083,358.1 1083,386.7 1084,386.7 1084,358.1 1085,358.1 1085,386.7 1086,386.7 1086,358.1 1087,358.1 1087,386.7 1088,386.7 1088,358.1 1089,358.1 1089,386.7 1090,386.7 1090,358.1 1091,358.1 1091,386.7 1092,386.7 1092,358.1 1093,358.1 1093,386.7 1094,386.7 1094,358.1 1095,358.1 1095,386.7 1096,386.7 1096,358.1 1097,358.1 1097,386.7 1098,386.7 1098,358.1 1098,372.4M1102,372.4 1102,358.1 1102,386.7 1103,386.7 1103,358.1 1104,358.1 1104,386.7 1105,386.7 1105,358.1 1106,358.1 1106,386.7 1106,372.4M1086,343.9 1086,329.6 1086,358.1 1087,358.1 1087,329.6 1088,329.6 1088,358.1 1089,358.1 1089,329.6 1090,329.6 1090,358.1 1091,358.1 1091,329.6 1092,329.6 1092,358.1 1093,358.1 1093,329.6 1094,329.6 1094,358.1 1095,358.1 1095,329.6 1096,329.6 1096,358.1 1097,358.1 1097,329.6 1098,329.6 1098,358.1 1098,343.9M1100,343.9 1100,329.6 1100,358.1 1101,358.1 1101,329.6 1102,329.6 1102,358.1 1103,358.1 1103,329.6 1104,329.6 1104,358.1 1105,358.1 1105,329.6 1106,329.6 1106,358.1 1107,358.1 1107,329.6 1107,343.9M1111,329.6V358.1M1113,329.6V358.1M1088,301V329.6M1095,315.3 1095,301 1095,329.6 1096,329.6 1096,301 1097,301 1097,329.6 1098,329.6 1098,301 1099,301 1099,329.6 1100,329.6 1100,301 1101,301 1101,329.6 1102,329.6 1102,301 1103,301 1103,329.6 1104,329.6 1104,301 1105,301 1105,329.6 1106,329.6 1106,301 1107,301 1107,329.6 1108,329.6 1108,301 1109,301 1109,329.6 1110,329.6 1110,301 1111,301 1111,329.6 1112,329.6 1112,301 1112,315.3M1091,272.4V301M1098,272.4V301M1101,272.4V301M1109,286.7 1109,272.4 1109,301 1110,301 1110,272.4 1111,272.4 1111,301 1112,301 1112,272.4 1113,272.4 1113,301 1114,301 1114,272.4 1115,272.4 1115,301 1116,301 1116,272.4 1117,272.4 1117,301 1118,301 1118,272.4 1119,272.4 1119,301 1120,301 1120,272.4 1121,272.4 1121,301 1122,301 1122,272.4 1123,272.4 1123,301 1124,301 1124,272.4 1124,286.7M1129,272.4V301M1115,258.1 1115,243.8 1115,272.4 1116,272.4 1116,243.8 1117,243.8 1117,272.4 1118,272.4 1118,243.8 1119,243.8 1119,272.4 1120,272.4 1120,243.8 1121,243.8 1121,272.4 1122,272.4 1122,243.8 1123,243.8 1123,272.4 1123,258.1M1118,315.3 1118,301 1118,329.6 1119,329.6 1119,301 1120,301 1120,329.6 1121,329.6 1121,301 1122,301 1122,329.6 1123,329.6 1123,301 1124,301 1124,329.6 1125,329.6 1125,301 1126,301 1126,329.6 1127,329.6 1127,301 1128,301 1128,329.6 1129,329.6 1129,301 1130,301 1130,329.6 1130,315.3M1125,343.9 1125,329.6 1125,358.1 1126,358.1 1126,329.6 1127,329.6 1127,358.1 1128,358.1 1128,329.6 1129,329.6 1129,358.1 1130,358.1 1130,329.6 1130,343.9M1137,329.6V358.1M1128,372.4 1128,358.1 1128,386.7 1129,386.7 1129,358.1 1130,358.1 1130,386.7 1131,386.7 1131,358.1 1132,358.1 1132,386.7 1133,386.7 1133,358.1 1134,358.1 1134,386.7 1135,386.7 1135,358.1 1136,358.1 1136,386.7 1137,386.7 1137,358.1 1138,358.1 1138,386.7 1139,386.7 1139,358.1 1140,358.1 1140,386.7 1141,386.7 1141,358.1 1142,358.1 1142,386.7 1142,372.4M1145,358.1V386.7M1146,358.1V386.7M1132,401 1132,386.7 1132,415.3 1133,415.3 1133,386.7 1134,386.7 1134,415.3 1135,415.3 1135,386.7 1136,386.7 1136,415.3 1136,401M1140,401 1140,386.7 1140,415.3 1141,415.3 1141,386.7 1142,386.7 1142,415.3 1143,415.3 1143,386.7 1143,401M1147,401 1147,386.7 1147,415.3 1148,415.3 1148,386.7 1149,386.7 1149,415.3 1150,415.3 1150,386.7 1151,386.7 1151,415.3 1152,415.3 1152,386.7 1153,386.7 1153,415.3 1154,415.3 1154,386.7 1155,386.7 1155,415.3 1155,401M1133,429.6 1133,415.3 1133,443.9 1134,443.9 1134,415.3 1135,415.3 1135,443.9 1136,443.9 1136,415.3 1136,429.6M1142,429.6 1142,415.3 1142,443.9 1142,429.6M1147,429.6 1147,415.3 1147,443.9 1148,443.9 1148,415.3 1149,415.3 1149,443.9 1150,443.9 1150,415.3 1151,415.3 1151,443.9 1152,443.9 1152,415.3 1153,415.3 1153,443.9 1154,443.9 1154,415.3 1155,415.3 1155,443.9 1156,443.9 1156,415.3 1157,415.3 1157,443.9 1158,443.9 1158,415.3 1158,429.6M1154,458.2 1154,443.9 1154,472.5 1155,472.5 1155,443.9 1156,443.9 1156,472.5 1157,472.5 1157,443.9 1158,443.9 1158,472.5 1159,472.5 1159,443.9 1160,443.9 1160,472.5 1160,458.2M1154,472.5V501M1158,486.8 1158,472.5 1158,501 1159,501 1159,472.5 1160,472.5 1160,501 1161,501 1161,472.5 1161,486.8M1160,515.3 1160,501 1160,529.6 1161,529.6 1161,501 1162,501 1162,529.6 1163,529.6 1163,501 1163,515.3M1162,543.9 1162,529.6 1162,558.2 1163,558.2 1163,529.6 1164,529.6 1164,558.2 1165,558.2 1165,529.6 1166,529.6 1166,558.2 1166,543.9M1164,572.5 1164,558.2 1164,586.8 1165,586.8 1165,558.2 1166,558.2 1166,586.8 1167,586.8 1167,558.2 1167,572.5M1164,601.1 1164,586.8 1164,615.4 1165,615.4 1165,586.8 1166,586.8 1166,615.4 1167,615.4 1167,586.8 1168,586.8 1168,615.4 1169,615.4 1169,586.8 1169,601.1M1181,558.2V615.4M1168,629.7 1168,615.4 1168,643.9 1169,643.9 1169,615.4 1170,615.4 1170,643.9 1171,643.9 1171,615.4 1172,615.4 1172,643.9 1173,643.9 1173,615.4 1173,629.7M1175,629.7 1175,615.4 1175,643.9 1176,643.9 1176,615.4 1177,615.4 1177,643.9 1178,643.9 1178,615.4 1179,615.4 1179,643.9 1180,643.9 1180,615.4 1181,615.4 1181,643.9 1182,643.9 1182,615.4 1183,615.4 1183,643.9 1184,643.9 1184,615.4 1185,615.4 1185,643.9 1186,643.9 1186,615.4 1187,615.4 1187,643.9 1187,629.7M1169,658.2 1169,643.9 1169,672.5 1170,672.5 1170,643.9 1171,643.9 1171,672.5 1172,672.5 1172,643.9 1173,643.9 1173,672.5 1174,672.5 1174,643.9 1175,643.9 1175,672.5 1176,672.5 1176,643.9 1177,643.9 1177,672.5 1178,672.5 1178,643.9 1179,643.9 1179,672.5 1180,672.5 1180,643.9 1181,643.9 1181,672.5 1182,672.5 1182,643.9 1183,643.9 1183,672.5 1184,672.5 1184,643.9 1185,643.9 1185,672.5 1186,672.5 1186,643.9 1187,643.9 1187,672.5 1187,658.2M1169,672.5V701.1M1171,672.5V701.1M1173,672.5V701.1M1179,672.5V701.1M1184,672.5V701.1M1186,672.5V701.1M1189,686.8 1189,672.5 1189,701.1 1190,701.1 1190,672.5 1190,686.8M1189,715.4 1189,701.1 1189,729.7 1190,729.7 1190,701.1 1191,701.1 1191,729.7 1192,729.7 1192,701.1 1193,701.1 1193,729.7 1193,715.4M1190,744 1190,729.7 1190,758.3 1191,758.3 1191,729.7 1192,729.7 1192,758.3 1193,758.3 1193,729.7 1194,729.7 1194,758.3 1194,744M1191,772.5 1191,758.3 1191,786.8 1192,786.8 1192,758.3 1193,758.3 1193,786.8 1194,786.8 1194,758.3 1195,758.3 1195,786.8 1196,786.8 1196,758.3 1197,758.3 1197,786.8 1198,786.8 1198,758.3 1199,758.3 1199,786.8 1199,772.5M1196,801.1 1196,786.8 1196,815.4 1197,815.4 1197,786.8 1198,786.8 1198,815.4 1199,815.4 1199,786.8 1200,786.8 1200,815.4 1200,801.1M1198,829.7 1198,815.4 1198,844 1199,844 1199,815.4 1200,815.4 1200,844 1201,844 1201,815.4 1202,815.4 1202,844 1202,829.7M1201,858.3 1201,844 1201,872.6 1202,872.6 1202,844 1203,844 1203,872.6 1204,872.6 1204,844 1205,844 1205,872.6 1206,872.6 1206,844 1206,858.3M1216,844V872.6M1203,872.6V901.2M1206,886.9 1206,872.6 1206,901.2 1207,901.2 1207,872.6 1208,872.6 1208,901.2 1209,901.2 1209,872.6 1210,872.6 1210,901.2 1211,901.2 1211,872.6 1212,872.6 1212,901.2 1213,901.2 1213,872.6 1214,872.6 1214,901.2 1215,901.2 1215,872.6 1216,872.6 1216,901.2 1216,886.9M1207,915.5 1207,901.2 1207,929.7 1208,929.7 1208,901.2 1209,901.2 1209,929.7 1210,929.7 1210,901.2 1210,915.5M1213,915.5 1213,901.2 1213,929.7 1214,929.7 1214,901.2 1215,901.2 1215,929.7 1216,929.7 1216,901.2 1217,901.2 1217,929.7 1218,929.7 1218,901.2 1219,901.2 1219,929.7 1220,929.7 1220,901.2 1221,901.2 1221,929.7 1222,929.7 1222,901.2 1223,901.2 1223,929.7 1224,929.7 1224,901.2 1225,901.2 1225,929.7 1225,915.5M1209,929.7V958.3M1216,944 1216,929.7 1216,958.3 1217,958.3 1217,929.7 1218,929.7 1218,958.3 1219,958.3 1219,929.7 1220,929.7 1220,958.3 1221,958.3 1221,929.7 1222,929.7 1222,958.3 1223,958.3 1223,929.7 1224,929.7 1224,958.3 1225,958.3 1225,929.7 1226,929.7 1226,958.3 1227,958.3 1227,929.7 1228,929.7 1228,958.3 1229,958.3 1229,929.7 1230,929.7 1230,958.3 1230,944M1221,972.6 1221,958.3 1221,986.9 1222,986.9 1222,958.3 1223,958.3 1223,986.9 1224,986.9 1224,958.3 1225,958.3 1225,986.9 1226,986.9 1226,958.3 1227,958.3 1227,986.9 1228,986.9 1228,958.3 1229,958.3 1229,986.9 1230,986.9 1230,958.3 1231,958.3 1231,986.9 1232,986.9 1232,958.3 1233,958.3 1233,986.9 1234,986.9 1234,958.3 1235,958.3 1235,986.9 1236,986.9 1236,958.3 1236,972.6M1241,958.3V1015.5M1225,1001.2 1225,986.9 1225,1015.5 1226,1015.5 1226,986.9 1227,986.9 1227,1015.5 1228,1015.5 1228,986.9 1229,986.9 1229,1015.5 1230,1015.5 1230,986.9 1231,986.9 1231,1015.5 1232,1015.5 1232,986.9 1233,986.9 1233,1015.5 1234,1015.5 1234,986.9 1235,986.9 1235,1015.5 1236,1015.5 1236,986.9 1237,986.9 1237,1015.5 1237,1001.2M1234,1029.8 1234,1015.5 1234,1044.1 1235,1044.1 1235,1015.5 1236,1015.5 1236,1044.1 1237,1044.1 1237,1015.5 1238,1015.5 1238,1044.1 1239,1044.1 1239,1015.5 1240,1015.5 1240,1044.1 1241,1044.1 1241,1015.5 1242,1015.5 1242,1044.1 1243,1044.1 1243,1015.5 1244,1015.5 1244,1044.1 1245,1044.1 1245,1015.5 1246,1015.5 1246,1044.1 1247,1044.1 1247,1015.5 1248,1015.5 1248,1044.1 1248,1029.8M1234,1044.1V1101.2M1238,1058.3 1238,1044.1 1238,1072.6 1239,1072.6 1239,1044.1 1240,1044.1 1240,1072.6 1241,1072.6 1241,1044.1 1242,1044.1 1242,1072.6 1243,1072.6 1243,1044.1 1244,1044.1 1244,1072.6 1245,1072.6 1245,1044.1 1246,1044.1 1246,1072.6 1247,1072.6 1247,1044.1 1248,1044.1 1248,1072.6 1249,1072.6 1249,1044.1 1250,1044.1 1250,1072.6 1251,1072.6 1251,1044.1 1251,1058.3M1243,1072.6V1101.2M1251,1086.9 1251,1072.6 1251,1101.2 1252,1101.2 1252,1072.6 1253,1072.6 1253,1101.2 1254,1101.2 1254,1072.6 1255,1072.6 1255,1101.2 1256,1101.2 1256,1072.6 1257,1072.6 1257,1101.2 1258,1101.2 1258,1072.6 1259,1072.6 1259,1101.2 1260,1101.2 1260,1072.6 1261,1072.6 1261,1101.2 1262,1101.2 1262,1072.6 1263,1072.6 1263,1101.2 1263,1086.9M1267,1072.6V1101.2M1252,1115.5 1252,1101.2 1252,1129.8 1253,1129.8 1253,1101.2 1254,1101.2 1254,1129.8 1255,1129.8 1255,1101.2 1256,1101.2 1256,1129.8 1257,1129.8 1257,1101.2 1258,1101.2 1258,1129.8 1259,1129.8 1259,1101.2 1260,1101.2 1260,1129.8 1261,1129.8 1261,1101.2 1262,1101.2 1262,1129.8 1263,1129.8 1263,1101.2 1264,1101.2 1264,1129.8 1265,1129.8 1265,1101.2 1266,1101.2 1266,1129.8 1267,1129.8 1267,1101.2 1268,1101.2 1268,1129.8 1269,1129.8 1269,1101.2 1270,1101.2 1270,1129.8 1271,1129.8 1271,1101.2 1272,1101.2 1272,1129.8 1273,1129.8 1273,1101.2 1274,1101.2 1274,1129.8 1274,1115.5M1279,1101.2V1129.8M1310,1115.5 1310,1101.2 1310,1129.8 1311,1129.8 1311,1101.2 1312,1101.2 1312,1129.8 1313,1129.8 1313,1101.2 1314,1101.2 1314,1129.8 1315,1129.8 1315,1101.2 1315,1115.5M1311,1086.9 1311,1072.6 1311,1101.2 1312,1101.2 1312,1072.6 1313,1072.6 1313,1101.2 1314,1101.2 1314,1072.6 1315,1072.6 1315,1101.2 1315,1086.9M1315,1058.3 1315,1044.1 1315,1072.6 1316,1072.6 1316,1044.1 1317,1044.1 1317,1072.6 1317,1058.3M1317,1029.8 1317,1015.5 1317,1044.1 1318,1044.1 1318,1015.5 1319,1015.5 1319,1044.1 1320,1044.1 1320,1015.5 1321,1015.5 1321,1044.1 1321,1029.8M1319,1001.2 1319,986.9 1319,1015.5 1320,1015.5 1320,986.9 1321,986.9 1321,1015.5 1321,1001.2M1320,972.6 1320,958.3 1320,986.9 1321,986.9 1321,958.3 1322,958.3 1322,986.9 1323,986.9 1323,958.3 1324,958.3 1324,986.9 1325,986.9 1325,958.3 1326,958.3 1326,986.9 1326,972.6M1325,944 1325,929.7 1325,958.3 1326,958.3 1326,929.7 1327,929.7 1327,958.3 1328,958.3 1328,929.7 1329,929.7 1329,958.3 1329,944M1325,915.5 1325,901.2 1325,929.7 1326,929.7 1326,901.2 1327,901.2 1327,929.7 1328,929.7 1328,901.2 1329,901.2 1329,929.7 1330,929.7 1330,901.2 1331,901.2 1331,929.7 1332,929.7 1332,901.2 1333,901.2 1333,929.7 1334,929.7 1334,901.2 1335,901.2 1335,929.7 1335,915.5M1330,872.6 1330,844 1330,901.2 1331,901.2 1331,844 1332,844 1332,901.2 1333,901.2 1333,844 1334,844 1334,901.2 1335,901.2 1335,844 1336,844 1336,901.2 1337,901.2 1337,844 1338,844 1338,901.2 1339,901.2 1339,844 1340,844 1340,901.2 1341,901.2 1341,844 1342,844 1342,901.2 1343,901.2 1343,844 1343,872.6M1343,886.9 1343,872.6 1343,901.2 1344,901.2 1344,872.6 1345,872.6 1345,901.2 1346,901.2 1346,872.6 1346,886.9M1343,915.5 1343,901.2 1343,929.7 1344,929.7 1344,901.2 1345,901.2 1345,929.7 1346,929.7 1346,901.2 1347,901.2 1347,929.7 1348,929.7 1348,901.2 1349,901.2 1349,929.7 1349,915.5M1355,901.2V958.3M1347,944 1347,929.7 1347,958.3 1348,958.3 1348,929.7 1349,929.7 1349,958.3 1350,958.3 1350,929.7 1351,929.7 1351,958.3 1352,958.3 1352,929.7 1353,929.7 1353,958.3 1354,958.3 1354,929.7 1354,944M1351,972.6 1351,958.3 1351,986.9 1352,986.9 1352,958.3 1353,958.3 1353,986.9 1354,986.9 1354,958.3 1354,972.6M1348,986.9V1015.5M1354,1001.2 1354,986.9 1354,1015.5 1355,1015.5 1355,986.9 1356,986.9 1356,1015.5 1357,1015.5 1357,986.9 1357,1001.2M1355,1029.8 1355,1015.5 1355,1044.1 1356,1044.1 1356,1015.5 1357,1015.5 1357,1044.1 1358,1044.1 1358,1015.5 1359,1015.5 1359,1044.1 1360,1044.1 1360,1015.5 1360,1029.8M1361,1029.8 1361,1015.5 1361,1044.1 1362,1044.1 1362,1015.5 1363,1015.5 1363,1044.1 1364,1044.1 1364,1015.5 1364,1029.8M1359,1058.3 1359,1044.1 1359,1072.6 1360,1072.6 1360,1044.1 1361,1044.1 1361,1072.6 1362,1072.6 1362,1044.1 1363,1044.1 1363,1072.6 1364,1072.6 1364,1044.1 1365,1044.1 1365,1072.6 1365,1058.3M1363,1086.9 1363,1072.6 1363,1101.2 1364,1101.2 1364,1072.6 1365,1072.6 1365,1101.2 1366,1101.2 1366,1072.6 1367,1072.6 1367,1101.2 1368,1101.2 1368,1072.6 1369,1072.6 1369,1101.2 1369,1086.9M1365,1115.5 1365,1101.2 1365,1129.8 1366,1129.8 1366,1101.2 1367,1101.2 1367,1129.8 1368,1129.8 1368,1101.2 1369,1101.2 1369,1129.8 1370,1129.8 1370,1101.2 1371,1101.2 1371,1129.8 1372,1129.8 1372,1101.2 1372,1115.5M1254,1129.8V1158.4M1257,1144.1 1257,1129.8 1257,1158.4 1258,1158.4 1258,1129.8 1259,1129.8 1259,1158.4 1260,1158.4 1260,1129.8 1261,1129.8 1261,1158.4 1262,1158.4 1262,1129.8 1263,1129.8 1263,1158.4 1264,1158.4 1264,1129.8 1265,1129.8 1265,1158.4 1266,1158.4 1266,1129.8 1267,1129.8 1267,1158.4 1268,1158.4 1268,1129.8 1269,1129.8 1269,1158.4 1270,1158.4 1270,1129.8 1271,1129.8 1271,1158.4 1272,1158.4 1272,1129.8 1273,1129.8 1273,1158.4 1274,1158.4 1274,1129.8 1274,1144.1M1279,1144.1 1279,1129.8 1279,1158.4 1280,1158.4 1280,1129.8 1281,1129.8 1281,1158.4 1282,1158.4 1282,1129.8 1283,1129.8 1283,1158.4 1283,1144.1M1265,1158.4V1187M1269,1158.4V1215.5M1273,1158.4V1215.5M1276,1172.7 1276,1158.4 1276,1187 1277,1187 1277,1158.4 1278,1158.4 1278,1187 1279,1187 1279,1158.4 1280,1158.4 1280,1187 1281,1187 1281,1158.4 1282,1158.4 1282,1187 1283,1187 1283,1158.4 1284,1158.4 1284,1187 1285,1187 1285,1158.4 1286,1158.4 1286,1187 1287,1187 1287,1158.4 1288,1158.4 1288,1187 1289,1187 1289,1158.4 1290,1158.4 1290,1187 1291,1187 1291,1158.4 1292,1158.4 1292,1187 1293,1187 1293,1158.4 1294,1158.4 1294,1187 1295,1187 1295,1158.4 1296,1158.4 1296,1187 1297,1187 1297,1158.4 1298,1158.4 1298,1187 1299,1187 1299,1158.4 1300,1158.4 1300,1187 1301,1187 1301,1158.4 1302,1158.4 1302,1187 1303,1187 1303,1158.4 1304,1158.4 1304,1187 1305,1187 1305,1158.4 1306,1158.4 1306,1187 1307,1187 1307,1158.4 1308,1158.4 1308,1187 1309,1187 1309,1158.4 1309,1172.7M1280,1201.2 1280,1187 1280,1215.5 1281,1215.5 1281,1187 1282,1187 1282,1215.5 1283,1215.5 1283,1187 1284,1187 1284,1215.5 1285,1215.5 1285,1187 1286,1187 1286,1215.5 1287,1215.5 1287,1187 1288,1187 1288,1215.5 1288,1201.2M1291,1201.2 1291,1187 1291,1215.5 1292,1215.5 1292,1187 1293,1187 1293,1215.5 1294,1215.5 1294,1187 1294,1201.2M1297,1201.2 1297,1187 1297,1215.5 1298,1215.5 1298,1187 1299,1187 1299,1215.5 1300,1215.5 1300,1187 1301,1187 1301,1215.5 1302,1215.5 1302,1187 1303,1187 1303,1215.5 1304,1215.5 1304,1187 1305,1187 1305,1215.5 1306,1215.5 1306,1187 1307,1187 1307,1215.5 1308,1215.5 1308,1187 1309,1187 1309,1215.5 1309,1201.2M1297,1215.5V1244.1M1308,1215.5V1244.1M1310,1172.7 1310,1158.4 1310,1187 1310,1172.7M1310,1144.1 1310,1129.8 1310,1158.4 1311,1158.4 1311,1129.8 1311,1144.1M1368,1144.1 1368,1129.8 1368,1158.4 1369,1158.4 1369,1129.8 1370,1129.8 1370,1158.4 1371,1158.4 1371,1129.8 1372,1129.8 1372,1158.4 1372,1144.1M1370,1158.4V1215.5M1375,1172.7 1375,1158.4 1375,1187 1376,1187 1376,1158.4 1377,1158.4 1377,1187 1378,1187 1378,1158.4 1379,1158.4 1379,1187 1380,1187 1380,1158.4 1381,1158.4 1381,1187 1382,1187 1382,1158.4 1383,1158.4 1383,1187 1384,1187 1384,1158.4 1384,1172.7M1376,1201.2 1376,1187 1376,1215.5 1377,1215.5 1377,1187 1378,1187 1378,1215.5 1379,1215.5 1379,1187 1380,1187 1380,1215.5 1381,1215.5 1381,1187 1382,1187 1382,1215.5 1383,1215.5 1383,1187 1384,1187 1384,1215.5 1385,1215.5 1385,1187 1386,1187 1386,1215.5 1387,1215.5 1387,1187 1388,1187 1388,1215.5 1388,1201.2M1393,1187V1215.5M1387,1229.8 1387,1215.5 1387,1244.1 1388,1244.1 1388,1215.5 1389,1215.5 1389,1244.1 1390,1244.1 1390,1215.5 1391,1215.5 1391,1244.1 1392,1244.1 1392,1215.5 1393,1215.5 1393,1244.1 1394,1244.1 1394,1215.5 1395,1215.5 1395,1244.1 1396,1244.1 1396,1215.5 1396,1229.8M1391,1258.4 1391,1244.1 1391,1272.7 1392,1272.7 1392,1244.1 1393,1244.1 1393,1272.7 1394,1272.7 1394,1244.1 1395,1244.1 1395,1272.7 1396,1272.7 1396,1244.1 1397,1244.1 1397,1272.7 1398,1272.7 1398,1244.1 1399,1244.1 1399,1272.7 1400,1272.7 1400,1244.1 1401,1244.1 1401,1272.7 1401,1258.4M1397,1272.7V1301.3M1401,1287 1401,1272.7 1401,1301.3 1402,1301.3 1402,1272.7 1403,1272.7 1403,1301.3 1404,1301.3 1404,1272.7 1405,1272.7 1405,1301.3 1406,1301.3 1406,1272.7 1407,1272.7 1407,1301.3 1408,1301.3 1408,1272.7 1409,1272.7 1409,1301.3 1410,1301.3 1410,1272.7 1411,1272.7 1411,1301.3 1412,1301.3 1412,1272.7 1412,1287M1416,1287 1416,1272.7 1416,1301.3 1417,1301.3 1417,1272.7 1418,1272.7 1418,1301.3 1419,1301.3 1419,1272.7 1420,1272.7 1420,1301.3 1421,1301.3 1421,1272.7 1421,1287M1424,1272.7V1301.3M1407,1315.6 1407,1301.3 1407,1329.9 1408,1329.9 1408,1301.3 1409,1301.3 1409,1329.9 1410,1329.9 1410,1301.3 1411,1301.3 1411,1329.9 1412,1329.9 1412,1301.3 1413,1301.3 1413,1329.9 1414,1329.9 1414,1301.3 1415,1301.3 1415,1329.9 1416,1329.9 1416,1301.3 1417,1301.3 1417,1329.9 1418,1329.9 1418,1301.3 1419,1301.3 1419,1329.9 1420,1329.9 1420,1301.3 1420,1315.6M1409,1329.9V1387M1415,1329.9V1387M1424,1187V1215.5M1431,1187V1215.5M1420,1229.8 1420,1215.5 1420,1244.1 1421,1244.1 1421,1215.5 1422,1215.5 1422,1244.1 1423,1244.1 1423,1215.5 1424,1215.5 1424,1244.1 1425,1244.1 1425,1215.5 1426,1215.5 1426,1244.1 1427,1244.1 1427,1215.5 1428,1215.5 1428,1244.1 1429,1244.1 1429,1215.5 1430,1215.5 1430,1244.1 1431,1244.1 1431,1215.5 1432,1215.5 1432,1244.1 1433,1244.1 1433,1215.5 1434,1215.5 1434,1244.1 1435,1244.1 1435,1215.5 1436,1215.5 1436,1244.1 1437,1244.1 1437,1215.5 1438,1215.5 1438,1244.1 1439,1244.1 1439,1215.5 1440,1215.5 1440,1244.1 1441,1244.1 1441,1215.5 1442,1215.5 1442,1244.1 1443,1244.1 1443,1215.5 1444,1215.5 1444,1244.1 1444,1229.8M1450,1215.5V1244.1M1420,1258.4 1420,1244.1 1420,1272.7 1421,1272.7 1421,1244.1 1422,1244.1 1422,1272.7 1423,1272.7 1423,1244.1 1424,1244.1 1424,1272.7 1425,1272.7 1425,1244.1 1426,1244.1 1426,1272.7 1427,1272.7 1427,1244.1 1428,1244.1 1428,1272.7 1429,1272.7 1429,1244.1 1430,1244.1 1430,1272.7 1430,1258.4M1433,1258.4 1433,1244.1 1433,1272.7 1434,1272.7 1434,1244.1 1435,1244.1 1435,1272.7 1436,1272.7 1436,1244.1 1437,1244.1 1437,1272.7 1438,1272.7 1438,1244.1 1439,1244.1 1439,1272.7 1440,1272.7 1440,1244.1 1441,1244.1 1441,1272.7 1442,1272.7 1442,1244.1 1443,1244.1 1443,1272.7 1444,1272.7 1444,1244.1 1445,1244.1 1445,1272.7 1445,1258.4M1452,1244.1V1272.7M1455,1244.1V1272.7M1458,1244.1V1272.7M1437,1287 1437,1272.7 1437,1301.3 1438,1301.3 1438,1272.7 1439,1272.7 1439,1301.3 1439,1287M1446,1287 1446,1272.7 1446,1301.3 1447,1301.3 1447,1272.7 1448,1272.7 1448,1301.3 1449,1301.3 1449,1272.7 1450,1272.7 1450,1301.3 1451,1301.3 1451,1272.7 1452,1272.7 1452,1301.3 1453,1301.3 1453,1272.7 1454,1272.7 1454,1301.3 1455,1301.3 1455,1272.7 1456,1272.7 1456,1301.3 1457,1301.3 1457,1272.7 1458,1272.7 1458,1301.3 1459,1301.3 1459,1272.7 1460,1272.7 1460,1301.3 1461,1301.3 1461,1272.7 1462,1272.7 1462,1301.3 1463,1301.3 1463,1272.7 1464,1272.7 1464,1301.3 1465,1301.3 1465,1272.7 1466,1272.7 1466,1301.3 1467,1301.3 1467,1272.7 1468,1272.7 1468,1301.3 1469,1301.3 1469,1272.7 1470,1272.7 1470,1301.3 1471,1301.3 1471,1272.7 1471,1287M1475,1272.7V1301.3M1480,1272.7V1301.3M1485,1272.7V1301.3M1446,1301.3V1329.9M1448,1301.3V1329.9M1450,1301.3V1329.9M1452,1301.3V1329.9M1454,1301.3V1329.9M1456,1301.3V1329.9M1458,1301.3V1329.9M1460,1315.6 1460,1301.3 1460,1329.9 1461,1329.9 1461,1301.3 1462,1301.3 1462,1329.9 1463,1329.9 1463,1301.3 1464,1301.3 1464,1329.9 1465,1329.9 1465,1301.3 1466,1301.3 1466,1329.9 1467,1329.9 1467,1301.3 1468,1301.3 1468,1329.9 1469,1329.9 1469,1301.3 1470,1301.3 1470,1329.9 1471,1329.9 1471,1301.3 1472,1301.3 1472,1329.9 1473,1329.9 1473,1301.3 1474,1301.3 1474,1329.9 1475,1329.9 1475,1301.3 1476,1301.3 1476,1329.9 1477,1329.9 1477,1301.3 1477,1315.6M1483,1315.6 1483,1301.3 1483,1329.9 1484,1329.9 1484,1301.3 1485,1301.3 1485,1329.9 1486,1329.9 1486,1301.3 1486,1315.6M1461,1344.2 1461,1329.9 1461,1358.4 1462,1358.4 1462,1329.9 1463,1329.9 1463,1358.4 1464,1358.4 1464,1329.9 1464,1344.2M1474,1329.9V1358.4M1471,1329.9V1387M1478,1344.2 1478,1329.9 1478,1358.4 1479,1358.4 1479,1329.9 1480,1329.9 1480,1358.4 1481,1358.4 1481,1329.9 1482,1329.9 1482,1358.4 1483,1358.4 1483,1329.9 1484,1329.9 1484,1358.4 1485,1358.4 1485,1329.9 1486,1329.9 1486,1358.4 1487,1358.4 1487,1329.9 1488,1329.9 1488,1358.4 1489,1358.4 1489,1329.9 1490,1329.9 1490,1358.4 1491,1358.4 1491,1329.9 1492,1329.9 1492,1358.4 1493,1358.4 1493,1329.9 1494,1329.9 1494,1358.4 1495,1358.4 1495,1329.9 1496,1329.9 1496,1358.4 1497,1358.4 1497,1329.9 1498,1329.9 1498,1358.4 1499,1358.4 1499,1329.9 1500,1329.9 1500,1358.4 1501,1358.4 1501,1329.9 1502,1329.9 1502,1358.4 1503,1358.4 1503,1329.9 1504,1329.9 1504,1358.4 1505,1358.4 1505,1329.9 1506,1329.9 1506,1358.4 1507,1358.4 1507,1329.9 1508,1329.9 1508,1358.4 1509,1358.4 1509,1329.9 1510,1329.9 1510,1358.4 1511,1358.4 1511,1329.9 1512,1329.9 1512,1358.4 1513,1358.4 1513,1329.9 1514,1329.9 1514,1358.4 1515,1358.4 1515,1329.9 1516,1329.9 1516,1358.4 1517,1358.4 1517,1329.9 1518,1329.9 1518,1358.4 1519,1358.4 1519,1329.9 1520,1329.9 1520,1358.4 1521,1358.4 1521,1329.9 1522,1329.9 1522,1358.4 1523,1358.4 1523,1329.9 1524,1329.9 1524,1358.4 1525,1358.4 1525,1329.9 1526,1329.9 1526,1358.4 1527,1358.4 1527,1329.9 1528,1329.9 1528,1358.4 1529,1358.4 1529,1329.9 1530,1329.9 1530,1358.4 1531,1358.4 1531,1329.9 1532,1329.9 1532,1358.4 1533,1358.4 1533,1329.9 1534,1329.9 1534,1358.4 1535,1358.4 1535,1329.9 1536,1329.9 1536,1358.4 1536,1344.2M1481,1372.7 1481,1358.4 1481,1387 1482,1387 1482,1358.4 1483,1358.4 1483,1387 1484,1387 1484,1358.4 1485,1358.4 1485,1387 1486,1387 1486,1358.4 1487,1358.4 1487,1387 1488,1387 1488,1358.4 1489,1358.4 1489,1387 1490,1387 1490,1358.4 1491,1358.4 1491,1387 1492,1387 1492,1358.4 1493,1358.4 1493,1387 1494,1387 1494,1358.4 1495,1358.4 1495,1387 1496,1387 1496,1358.4 1497,1358.4 1497,1387 1498,1387 1498,1358.4 1499,1358.4 1499,1387 1500,1387 1500,1358.4 1501,1358.4 1501,1387 1502,1387 1502,1358.4 1503,1358.4 1503,1387 1504,1387 1504,1358.4 1505,1358.4 1505,1387 1506,1387 1506,1358.4 1507,1358.4 1507,1387 1508,1387 1508,1358.4 1509,1358.4 1509,1387 1510,1387 1510,1358.4 1511,1358.4 1511,1387 1512,1387 1512,1358.4 1513,1358.4 1513,1387 1514,1387 1514,1358.4 1515,1358.4 1515,1387 1516,1387 1516,1358.4 1517,1358.4 1517,1387 1518,1387 1518,1358.4 1519,1358.4 1519,1387 1520,1387 1520,1358.4 1521,1358.4 1521,1387 1522,1387 1522,1358.4 1523,1358.4 1523,1387 1524,1387 1524,1358.4 1525,1358.4 1525,1387 1526,1387 1526,1358.4 1527,1358.4 1527,1387 1528,1387 1528,1358.4 1529,1358.4 1529,1387 1530,1387 1530,1358.4 1531,1358.4 1531,1387 1532,1387 1532,1358.4 1533,1358.4 1533,1387 1534,1387 1534,1358.4 1535,1358.4 1535,1387 1536,1387 1536,1358.4 1536,1372.7M1492,1387V1415.6M1499,1387V1415.6M1507,1387V1415.6M1516,1387V1415.6M1519,1401.3 1519,1387 1519,1415.6 1520,1415.6 1520,1387 1521,1387 1521,1415.6 1522,1415.6 1522,1387 1523,1387 1523,1415.6 1524,1415.6 1524,1387 1525,1387 1525,1415.6 1526,1415.6 1526,1387 1527,1387 1527,1415.6 1528,1415.6 1528,1387 1528,1401.3M1501,1415.6V1444.2M1511,1415.6V1444.2M1523,1429.9 1523,1415.6 1523,1444.2 1524,1444.2 1524,1415.6 1525,1415.6 1525,1444.2 1526,1444.2 1526,1415.6 1526,1429.9M1534,1315.6 1534,1301.3 1534,1329.9 1535,1329.9 1535,1301.3 1536,1301.3 1536,1329.9 1537,1329.9 1537,1301.3 1538,1301.3 1538,1329.9 1539,1329.9 1539,1301.3 1540,1301.3 1540,1329.9 1541,1329.9 1541,1301.3 1542,1301.3 1542,1329.9 1542,1315.6M1538,1287 1538,1272.7 1538,1301.3 1539,1301.3 1539,1272.7 1540,1272.7 1540,1301.3 1541,1301.3 1541,1272.7 1542,1272.7 1542,1301.3 1542,1287M1543,1258.4 1543,1244.1 1543,1272.7 1544,1272.7 1544,1244.1 1545,1244.1 1545,1272.7 1546,1272.7 1546,1244.1 1546,1258.4M1544,1229.8 1544,1215.5 1544,1244.1 1545,1244.1 1545,1215.5 1546,1215.5 1546,1244.1 1547,1244.1 1547,1215.5 1547,1229.8M1545,1201.2 1545,1187 1545,1215.5 1546,1215.5 1546,1187 1547,1187 1547,1215.5 1548,1215.5 1548,1187 1549,1187 1549,1215.5 1549,1201.2M1547,1172.7 1547,1158.4 1547,1187 1548,1187 1548,1158.4 1549,1158.4 1549,1187 1549,1172.7M1590,1172.7 1590,1158.4 1590,1187 1591,1187 1591,1158.4 1592,1158.4 1592,1187 1593,1187 1593,1158.4 1594,1158.4 1594,1187 1595,1187 1595,1158.4 1596,1158.4 1596,1187 1597,1187 1597,1158.4 1598,1158.4 1598,1187 1599,1187 1599,1158.4 1600,1158.4 1600,1187 1601,1187 1601,1158.4 1602,1158.4 1602,1187 1603,1187 1603,1158.4 1604,1158.4 1604,1187 1605,1187 1605,1158.4 1606,1158.4 1606,1187 1607,1187 1607,1158.4 1608,1158.4 1608,1187 1609,1187 1609,1158.4 1610,1158.4 1610,1187 1611,1187 1611,1158.4 1612,1158.4 1612,1187 1613,1187 1613,1158.4 1614,1158.4 1614,1187 1615,1187 1615,1158.4 1616,1158.4 1616,1187 1617,1187 1617,1158.4 1618,1158.4 1618,1187 1618,1172.7M1655,1172.7 1655,1158.4 1655,1187 1656,1187 1656,1158.4 1657,1158.4 1657,1187 1658,1187 1658,1158.4 1659,1158.4 1659,1187 1660,1187 1660,1158.4 1661,1158.4 1661,1187 1662,1187 1662,1158.4 1663,1158.4 1663,1187 1664,1187 1664,1158.4 1664,1172.7M1668,1172.7 1668,1158.4 1668,1187 1669,1187 1669,1158.4 1670,1158.4 1670,1187 1671,1187 1671,1158.4 1672,1158.4 1672,1187 1673,1187 1673,1158.4 1674,1158.4 1674,1187 1675,1187 1675,1158.4 1675,1172.7M1684,1172.7 1684,1158.4 1684,1187 1685,1187 1685,1158.4 1686,1158.4 1686,1187 1687,1187 1687,1158.4 1688,1158.4 1688,1187 1688,1172.7M1692,1172.7 1692,1158.4 1692,1187 1693,1187 1693,1158.4 1694,1158.4 1694,1187 1695,1187 1695,1158.4 1696,1158.4 1696,1187 1697,1187 1697,1158.4 1698,1158.4 1698,1187 1699,1187 1699,1158.4 1700,1158.4 1700,1187 1701,1187 1701,1158.4 1701,1172.7M1594,1187V1215.5M1598,1201.2 1598,1187 1598,1215.5 1599,1215.5 1599,1187 1600,1187 1600,1215.5 1601,1215.5 1601,1187 1602,1187 1602,1215.5 1603,1215.5 1603,1187 1604,1187 1604,1215.5 1605,1215.5 1605,1187 1606,1187 1606,1215.5 1607,1215.5 1607,1187 1608,1187 1608,1215.5 1609,1215.5 1609,1187 1610,1187 1610,1215.5 1611,1215.5 1611,1187 1611,1201.2M1615,1201.2 1615,1187 1615,1215.5 1616,1215.5 1616,1187 1617,1187 1617,1215.5 1618,1215.5 1618,1187 1618,1201.2M1653,1201.2 1653,1187 1653,1215.5 1654,1215.5 1654,1187 1655,1187 1655,1215.5 1656,1215.5 1656,1187 1657,1187 1657,1215.5 1658,1215.5 1658,1187 1659,1187 1659,1215.5 1660,1215.5 1660,1187 1661,1187 1661,1215.5 1662,1215.5 1662,1187 1663,1187 1663,1215.5 1664,1215.5 1664,1187 1665,1187 1665,1215.5 1666,1215.5 1666,1187 1667,1187 1667,1215.5 1668,1215.5 1668,1187 1669,1187 1669,1215.5 1669,1201.2M1673,1187V1215.5M1688,1187V1215.5M1693,1187V1215.5M1702,1187V1215.5M1609,1215.5V1244.1M1618,1229.8 1618,1215.5 1618,1244.1 1619,1244.1 1619,1215.5 1620,1215.5 1620,1244.1 1621,1244.1 1621,1215.5 1622,1215.5 1622,1244.1 1622,1229.8M1635,1215.5V1244.1M1639,1229.8 1639,1215.5 1639,1244.1 1640,1244.1 1640,1215.5 1641,1215.5 1641,1244.1 1642,1244.1 1642,1215.5 1643,1215.5 1643,1244.1 1644,1244.1 1644,1215.5 1645,1215.5 1645,1244.1 1646,1244.1 1646,1215.5 1647,1215.5 1647,1244.1 1648,1244.1 1648,1215.5 1649,1215.5 1649,1244.1 1650,1244.1 1650,1215.5 1651,1215.5 1651,1244.1 1652,1244.1 1652,1215.5 1653,1215.5 1653,1244.1 1654,1244.1 1654,1215.5 1655,1215.5 1655,1244.1 1656,1244.1 1656,1215.5 1657,1215.5 1657,1244.1 1658,1244.1 1658,1215.5 1659,1215.5 1659,1244.1 1659,1229.8M1666,1229.8 1666,1215.5 1666,1244.1 1667,1244.1 1667,1215.5 1668,1215.5 1668,1244.1 1668,1229.8M1621,1258.4 1621,1244.1 1621,1272.7 1622,1272.7 1622,1244.1 1623,1244.1 1623,1272.7 1624,1272.7 1624,1244.1 1625,1244.1 1625,1272.7 1626,1272.7 1626,1244.1 1627,1244.1 1627,1272.7 1628,1272.7 1628,1244.1 1629,1244.1 1629,1272.7 1629,1258.4M1634,1258.4 1634,1244.1 1634,1272.7 1635,1272.7 1635,1244.1 1636,1244.1 1636,1272.7 1637,1272.7 1637,1244.1 1638,1244.1 1638,1272.7 1639,1272.7 1639,1244.1 1640,1244.1 1640,1272.7 1641,1272.7 1641,1244.1 1642,1244.1 1642,1272.7 1643,1272.7 1643,1244.1 1644,1244.1 1644,1272.7 1644,1258.4M1648,1258.4 1648,1244.1 1648,1272.7 1649,1272.7 1649,1244.1 1650,1244.1 1650,1272.7 1650,1258.4M1623,1287 1623,1272.7 1623,1301.3 1624,1301.3 1624,1272.7 1625,1272.7 1625,1301.3 1626,1301.3 1626,1272.7 1627,1272.7 1627,1301.3 1628,1301.3 1628,1272.7 1629,1272.7 1629,1301.3 1630,1301.3 1630,1272.7 1631,1272.7 1631,1301.3 1632,1301.3 1632,1272.7 1633,1272.7 1633,1301.3 1634,1301.3 1634,1272.7 1635,1272.7 1635,1301.3 1636,1301.3 1636,1272.7 1637,1272.7 1637,1301.3 1638,1301.3 1638,1272.7 1639,1272.7 1639,1301.3 1639,1287M1644,1272.7V1301.3M1623,1301.3V1329.9M1627,1315.6 1627,1301.3 1627,1329.9 1628,1329.9 1628,1301.3 1629,1301.3 1629,1329.9 1630,1329.9 1630,1301.3 1631,1301.3 1631,1329.9 1632,1329.9 1632,1301.3 1632,1315.6M1636,1301.3V1329.9M1639,1301.3V1329.9M1549,1144.1 1549,1129.8 1549,1158.4 1550,1158.4 1550,1129.8 1551,1129.8 1551,1158.4 1552,1158.4 1552,1129.8 1553,1129.8 1553,1158.4 1553,1144.1M1550,1115.5 1550,1101.2 1550,1129.8 1551,1129.8 1551,1101.2 1552,1101.2 1552,1129.8 1553,1129.8 1553,1101.2 1553,1115.5M1551,1086.9 1551,1072.6 1551,1101.2 1552,1101.2 1552,1072.6 1553,1072.6 1553,1101.2 1554,1101.2 1554,1072.6 1555,1072.6 1555,1101.2 1555,1086.9M1554,1058.3 1554,1044.1 1554,1072.6 1555,1072.6 1555,1044.1 1556,1044.1 1556,1072.6 1557,1072.6 1557,1044.1 1557,1058.3M1560,1058.3 1560,1044.1 1560,1072.6 1561,1072.6 1561,1044.1 1562,1044.1 1562,1072.6 1563,1072.6 1563,1044.1 1563,1058.3M1554,1029.8 1554,1015.5 1554,1044.1 1555,1044.1 1555,1015.5 1556,1015.5 1556,1044.1 1557,1044.1 1557,1015.5 1558,1015.5 1558,1044.1 1559,1044.1 1559,1015.5 1560,1015.5 1560,1044.1 1561,1044.1 1561,1015.5 1562,1015.5 1562,1044.1 1563,1044.1 1563,1015.5 1564,1015.5 1564,1044.1 1564,1029.8M1560,986.9 1560,958.3 1560,1015.5 1561,1015.5 1561,958.3 1562,958.3 1562,1015.5 1563,1015.5 1563,958.3 1564,958.3 1564,1015.5 1565,1015.5 1565,958.3 1566,958.3 1566,1015.5 1567,1015.5 1567,958.3 1568,958.3 1568,1015.5 1569,1015.5 1569,958.3 1570,958.3 1570,1015.5 1571,1015.5 1571,958.3 1572,958.3 1572,1015.5 1573,1015.5 1573,958.3 1574,958.3 1574,1015.5 1575,1015.5 1575,958.3 1576,958.3 1576,1015.5 1577,1015.5 1577,958.3 1577,986.9M1569,944 1569,929.7 1569,958.3 1570,958.3 1570,929.7 1571,929.7 1571,958.3 1571,944M1575,1015.5V1072.6M1579,1029.8 1579,1015.5 1579,1044.1 1580,1044.1 1580,1015.5 1581,1015.5 1581,1044.1 1582,1044.1 1582,1015.5 1583,1015.5 1583,1044.1 1584,1044.1 1584,1015.5 1585,1015.5 1585,1044.1 1585,1029.8M1580,1058.3 1580,1044.1 1580,1072.6 1581,1072.6 1581,1044.1 1582,1044.1 1582,1072.6 1583,1072.6 1583,1044.1 1584,1044.1 1584,1072.6 1585,1072.6 1585,1044.1 1586,1044.1 1586,1072.6 1586,1058.3M1582,1072.6V1101.2M1585,1086.9 1585,1072.6 1585,1101.2 1586,1101.2 1586,1072.6 1587,1072.6 1587,1101.2 1588,1101.2 1588,1072.6 1589,1072.6 1589,1101.2 1589,1086.9M1586,1115.5 1586,1101.2 1586,1129.8 1587,1129.8 1587,1101.2 1588,1101.2 1588,1129.8 1589,1129.8 1589,1101.2 1590,1101.2 1590,1129.8 1591,1129.8 1591,1101.2 1592,1101.2 1592,1129.8 1592,1115.5M1587,1144.1 1587,1129.8 1587,1158.4 1588,1158.4 1588,1129.8 1589,1129.8 1589,1158.4 1590,1158.4 1590,1129.8 1591,1129.8 1591,1158.4 1592,1158.4 1592,1129.8 1593,1129.8 1593,1158.4 1594,1158.4 1594,1129.8 1595,1129.8 1595,1158.4 1596,1158.4 1596,1129.8 1596,1144.1M1669,1129.8V1158.4M1676,1144.1 1676,1129.8 1676,1158.4 1677,1158.4 1677,1129.8 1678,1129.8 1678,1158.4 1679,1158.4 1679,1129.8 1680,1129.8 1680,1158.4 1681,1158.4 1681,1129.8 1682,1129.8 1682,1158.4 1683,1158.4 1683,1129.8 1684,1129.8 1684,1158.4 1685,1158.4 1685,1129.8 1686,1129.8 1686,1158.4 1687,1158.4 1687,1129.8 1688,1129.8 1688,1158.4 1689,1158.4 1689,1129.8 1690,1129.8 1690,1158.4 1691,1158.4 1691,1129.8 1692,1129.8 1692,1158.4 1693,1158.4 1693,1129.8 1694,1129.8 1694,1158.4 1695,1158.4 1695,1129.8 1696,1129.8 1696,1158.4 1697,1158.4 1697,1129.8 1698,1129.8 1698,1158.4 1699,1158.4 1699,1129.8 1700,1129.8 1700,1158.4 1701,1158.4 1701,1129.8 1702,1129.8 1702,1158.4 1703,1158.4 1703,1129.8 1704,1129.8 1704,1158.4 1705,1158.4 1705,1129.8 1705,1144.1M1676,1115.5 1676,1101.2 1676,1129.8 1677,1129.8 1677,1101.2 1678,1101.2 1678,1129.8 1679,1129.8 1679,1101.2 1680,1101.2 1680,1129.8 1681,1129.8 1681,1101.2 1682,1101.2 1682,1129.8 1683,1129.8 1683,1101.2 1684,1101.2 1684,1129.8 1685,1129.8 1685,1101.2 1686,1101.2 1686,1129.8 1686,1115.5M1690,1115.5 1690,1101.2 1690,1129.8 1691,1129.8 1691,1101.2 1692,1101.2 1692,1129.8 1693,1129.8 1693,1101.2 1694,1101.2 1694,1129.8 1695,1129.8 1695,1101.2 1696,1101.2 1696,1129.8 1696,1115.5M1698,1115.5 1698,1101.2 1698,1129.8 1699,1129.8 1699,1101.2 1700,1101.2 1700,1129.8 1701,1129.8 1701,1101.2 1702,1101.2 1702,1129.8 1703,1129.8 1703,1101.2 1704,1101.2 1704,1129.8 1705,1129.8 1705,1101.2 1705,1115.5M1678,1072.6V1101.2M1681,1072.6V1101.2M1684,1072.6V1101.2M1686,1072.6V1101.2M1698,1072.6V1101.2M1702,1086.9 1702,1072.6 1702,1101.2 1703,1101.2 1703,1072.6 1704,1072.6 1704,1101.2 1705,1101.2 1705,1072.6 1706,1072.6 1706,1101.2 1706,1086.9M1705,1058.3 1705,1044.1 1705,1072.6 1706,1072.6 1706,1044.1 1707,1044.1 1707,1072.6 1708,1072.6 1708,1044.1 1709,1044.1 1709,1072.6 1710,1072.6 1710,1044.1 1710,1058.3M1708,1029.8 1708,1015.5 1708,1044.1 1709,1044.1 1709,1015.5 1710,1015.5 1710,1044.1 1711,1044.1 1711,1015.5 1712,1015.5 1712,1044.1 1713,1044.1 1713,1015.5 1713,1029.8M1712,1001.2 1712,986.9 1712,1015.5 1713,1015.5 1713,986.9 1714,986.9 1714,1015.5 1714,1001.2M1712,972.6 1712,958.3 1712,986.9 1713,986.9 1713,958.3 1714,958.3 1714,986.9 1715,986.9 1715,958.3 1716,958.3 1716,986.9 1717,986.9 1717,958.3 1717,972.6M1713,944 1713,929.7 1713,958.3 1714,958.3 1714,929.7 1715,929.7 1715,958.3 1716,958.3 1716,929.7 1717,929.7 1717,958.3 1718,958.3 1718,929.7 1719,929.7 1719,958.3 1720,958.3 1720,929.7 1721,929.7 1721,958.3 1722,958.3 1722,929.7 1723,929.7 1723,958.3 1724,958.3 1724,929.7 1725,929.7 1725,958.3 1726,958.3 1726,929.7 1727,929.7 1727,958.3 1728,958.3 1728,929.7 1729,929.7 1729,958.3 1730,958.3 1730,929.7 1731,929.7 1731,958.3 1731,944M1715,915.5 1715,901.2 1715,929.7 1716,929.7 1716,901.2 1717,901.2 1717,929.7 1718,929.7 1718,901.2 1719,901.2 1719,929.7 1720,929.7 1720,901.2 1721,901.2 1721,929.7 1722,929.7 1722,901.2 1723,901.2 1723,929.7 1724,929.7 1724,901.2 1725,901.2 1725,929.7 1726,929.7 1726,901.2 1727,901.2 1727,929.7 1728,929.7 1728,901.2 1729,901.2 1729,929.7 1730,929.7 1730,901.2 1731,901.2 1731,929.7 1732,929.7 1732,901.2 1733,901.2 1733,929.7 1734,929.7 1734,901.2 1734,915.5M1736,901.2V929.7M1738,901.2V929.7M1735,886.9 1735,872.6 1735,901.2 1736,901.2 1736,872.6 1737,872.6 1737,901.2 1738,901.2 1738,872.6 1739,872.6 1739,901.2 1740,901.2 1740,872.6 1740,886.9M1734,858.3 1734,844 1734,872.6 1735,872.6 1735,844 1736,844 1736,872.6 1737,872.6 1737,844 1738,844 1738,872.6 1739,872.6 1739,844 1740,844 1740,872.6 1741,872.6 1741,844 1742,844 1742,872.6 1743,872.6 1743,844 1744,844 1744,872.6 1745,872.6 1745,844 1745,858.3M1741,829.7 1741,815.4 1741,844 1742,844 1742,815.4 1743,815.4 1743,844 1744,844 1744,815.4 1745,815.4 1745,844 1745,829.7M1750,815.4V844M1742,801.1 1742,786.8 1742,815.4 1743,815.4 1743,786.8 1744,786.8 1744,815.4 1745,815.4 1745,786.8 1746,786.8 1746,815.4 1747,815.4 1747,786.8 1748,786.8 1748,815.4 1749,815.4 1749,786.8 1750,786.8 1750,815.4 1751,815.4 1751,786.8 1751,801.1M1754,786.8V815.4M1746,758.3V786.8M1751,772.5 1751,758.3 1751,786.8 1752,786.8 1752,758.3 1753,758.3 1753,786.8 1754,786.8 1754,758.3 1755,758.3 1755,786.8 1756,786.8 1756,758.3 1756,772.5M1754,744 1754,729.7 1754,758.3 1755,758.3 1755,729.7 1756,729.7 1756,758.3 1757,758.3 1757,729.7 1758,729.7 1758,758.3 1758,744M1765,729.7V758.3M1756,715.4 1756,701.1 1756,729.7 1757,729.7 1757,701.1 1758,701.1 1758,729.7 1759,729.7 1759,701.1 1760,701.1 1760,729.7 1761,729.7 1761,701.1 1762,701.1 1762,729.7 1763,729.7 1763,701.1 1764,701.1 1764,729.7 1765,729.7 1765,701.1 1766,701.1 1766,729.7 1767,729.7 1767,701.1 1768,701.1 1768,729.7 1768,715.4M1757,686.8 1757,672.5 1757,701.1 1758,701.1 1758,672.5 1759,672.5 1759,701.1 1760,701.1 1760,672.5 1761,672.5 1761,701.1 1762,701.1 1762,672.5 1763,672.5 1763,701.1 1764,701.1 1764,672.5 1765,672.5 1765,701.1 1766,701.1 1766,672.5 1767,672.5 1767,701.1 1768,701.1 1768,672.5 1769,672.5 1769,701.1 1770,701.1 1770,672.5 1770,686.8M1763,643.9V672.5M1767,643.9V672.5M1770,658.2 1770,643.9 1770,672.5 1771,672.5 1771,643.9 1772,643.9 1772,672.5 1773,672.5 1773,643.9 1774,643.9 1774,672.5 1775,672.5 1775,643.9 1776,643.9 1776,672.5 1777,672.5 1777,643.9 1777,658.2M1771,629.7 1771,615.4 1771,643.9 1772,643.9 1772,615.4 1773,615.4 1773,643.9 1774,643.9 1774,615.4 1775,615.4 1775,643.9 1776,643.9 1776,615.4 1777,615.4 1777,643.9 1778,643.9 1778,615.4 1778,629.7M1777,601.1 1777,586.8 1777,615.4 1778,615.4 1778,586.8 1779,586.8 1779,615.4 1780,615.4 1780,586.8 1781,586.8 1781,615.4 1781,601.1M1779,572.5 1779,558.2 1779,586.8 1780,586.8 1780,558.2 1781,558.2 1781,586.8 1782,586.8 1782,558.2 1782,572.5M1788,558.2V586.8M1781,543.9 1781,529.6 1781,558.2 1782,558.2 1782,529.6 1783,529.6 1783,558.2 1784,558.2 1784,529.6 1785,529.6 1785,558.2 1786,558.2 1786,529.6 1787,529.6 1787,558.2 1788,558.2 1788,529.6 1788,543.9M1782,515.3 1782,501 1782,529.6 1783,529.6 1783,501 1784,501 1784,529.6 1785,529.6 1785,501 1786,501 1786,529.6 1787,529.6 1787,501 1788,501 1788,529.6 1789,529.6 1789,501 1789,515.3M1790,486.8 1790,472.5 1790,501 1791,501 1791,472.5 1792,472.5 1792,501 1793,501 1793,472.5 1794,472.5 1794,501 1795,501 1795,472.5 1796,472.5 1796,501 1797,501 1797,472.5 1798,472.5 1798,501 1799,501 1799,472.5 1800,472.5 1800,501 1801,501 1801,472.5 1802,472.5 1802,501 1803,501 1803,472.5 1804,472.5 1804,501 1804,486.8M1808,486.8 1808,472.5 1808,501 1809,501 1809,472.5 1810,472.5 1810,501 1811,501 1811,472.5 1812,472.5 1812,501 1813,501 1813,472.5 1814,472.5 1814,501 1815,501 1815,472.5 1816,472.5 1816,501 1817,501 1817,472.5 1818,472.5 1818,501 1819,501 1819,472.5 1820,472.5 1820,501 1821,501 1821,472.5 1822,472.5 1822,501 1823,501 1823,472.5 1824,472.5 1824,501 1825,501 1825,472.5 1826,472.5 1826,501 1827,501 1827,472.5 1827,486.8M1830,472.5V501M1814,501V529.6M1819,501V529.6M1793,458.2 1793,443.9 1793,472.5 1794,472.5 1794,443.9 1795,443.9 1795,472.5 1796,472.5 1796,443.9 1797,443.9 1797,472.5 1798,472.5 1798,443.9 1799,443.9 1799,472.5 1800,472.5 1800,443.9 1801,443.9 1801,472.5 1802,472.5 1802,443.9 1803,443.9 1803,472.5 1804,472.5 1804,443.9 1805,443.9 1805,472.5 1806,472.5 1806,443.9 1806,458.2M1810,458.2 1810,443.9 1810,472.5 1811,472.5 1811,443.9 1812,443.9 1812,472.5 1813,472.5 1813,443.9 1814,443.9 1814,472.5 1815,472.5 1815,443.9 1816,443.9 1816,472.5 1817,472.5 1817,443.9 1818,443.9 1818,472.5 1819,472.5 1819,443.9 1820,443.9 1820,472.5 1821,472.5 1821,443.9 1822,443.9 1822,472.5 1823,472.5 1823,443.9 1824,443.9 1824,472.5 1825,472.5 1825,443.9 1826,443.9 1826,472.5 1827,472.5 1827,443.9 1828,443.9 1828,472.5 1829,472.5 1829,443.9 1830,443.9 1830,472.5 1831,472.5 1831,443.9 1832,443.9 1832,472.5 1832,458.2M1800,386.7V443.9M1801,429.6 1801,415.3 1801,443.9 1802,443.9 1802,415.3 1803,415.3 1803,443.9 1804,443.9 1804,415.3 1805,415.3 1805,443.9 1805,429.6M1810,415.3V443.9M1829,429.6 1829,415.3 1829,443.9 1830,443.9 1830,415.3 1831,415.3 1831,443.9 1832,443.9 1832,415.3 1833,415.3 1833,443.9 1833,429.6M1829,386.7V415.3M1833,401 1833,386.7 1833,415.3 1834,415.3 1834,386.7 1835,386.7 1835,415.3 1836,415.3 1836,386.7 1837,386.7 1837,415.3 1838,415.3 1838,386.7 1839,386.7 1839,415.3 1840,415.3 1840,386.7 1841,386.7 1841,415.3 1842,415.3 1842,386.7 1842,401M1850,386.7V415.3M1839,429.6 1839,415.3 1839,443.9 1840,443.9 1840,415.3 1841,415.3 1841,443.9 1841,429.6M1840,372.4 1840,358.1 1840,386.7 1841,386.7 1841,358.1 1842,358.1 1842,386.7 1843,386.7 1843,358.1 1844,358.1 1844,386.7 1845,386.7 1845,358.1 1846,358.1 1846,386.7 1847,386.7 1847,358.1 1848,358.1 1848,386.7 1849,386.7 1849,358.1 1850,358.1 1850,386.7 1851,386.7 1851,358.1 1852,358.1 1852,386.7 1853,386.7 1853,358.1 1854,358.1 1854,386.7 1855,386.7 1855,358.1 1855,372.4M1859,358.1V386.7M1863,358.1V386.7M1844,301V358.1M1848,343.9 1848,329.6 1848,358.1 1849,358.1 1849,329.6 1850,329.6 1850,358.1 1851,358.1 1851,329.6 1852,329.6 1852,358.1 1853,358.1 1853,329.6 1854,329.6 1854,358.1 1855,358.1 1855,329.6 1856,329.6 1856,358.1 1857,358.1 1857,329.6 1858,329.6 1858,358.1 1859,358.1 1859,329.6 1860,329.6 1860,358.1 1861,358.1 1861,329.6 1861,343.9M1867,329.6V358.1M1871,329.6V358.1M1878,301V358.1M1850,315.3 1850,301 1850,329.6 1851,329.6 1851,301 1852,301 1852,329.6 1853,329.6 1853,301 1854,301 1854,329.6 1855,329.6 1855,301 1856,301 1856,329.6 1857,329.6 1857,301 1858,301 1858,329.6 1859,329.6 1859,301 1860,301 1860,329.6 1861,329.6 1861,301 1862,301 1862,329.6 1863,329.6 1863,301 1864,301 1864,329.6 1865,329.6 1865,301 1866,301 1866,329.6 1867,329.6 1867,301 1868,301 1868,329.6 1869,329.6 1869,301 1870,301 1870,329.6 1871,329.6 1871,301 1872,301 1872,329.6 1873,329.6 1873,301 1874,301 1874,329.6 1875,329.6 1875,301 1875,315.3M1859,272.4V301M1864,272.4V301M1869,272.4V301M1875,286.7 1875,272.4 1875,301 1876,301 1876,272.4 1877,272.4 1877,301 1878,301 1878,272.4 1879,272.4 1879,301 1880,301 1880,272.4 1880,286.7M1884,286.7 1884,272.4 1884,301 1885,301 1885,272.4 1886,272.4 1886,301 1887,301 1887,272.4 1888,272.4 1888,301 1888,286.7M1885,301V329.6M1876,258.1 1876,243.8 1876,272.4 1877,272.4 1877,243.8 1877,258.1M1882,258.1 1882,243.8 1882,272.4 1883,272.4 1883,243.8 1884,243.8 1884,272.4 1885,272.4 1885,243.8 1886,243.8 1886,272.4 1887,272.4 1887,243.8 1888,243.8 1888,272.4 1888,258.1" stroke="#0072BD" stroke-width="2.1" fill="none" stroke-linejoin="round" stroke-linecap="round"/>
<g style="filter:grayscale(1)">
<text x="220.8" y="1572.9" textLength="65.9" lengthAdjust="spacingAndGlyphs" class="tl">3.4</text>
<text x="167.9" y="1430" textLength="116.5" lengthAdjust="spacingAndGlyphs" class="tl">3.405</text>
<text x="193.1" y="1287.1" textLength="90.3" lengthAdjust="spacingAndGlyphs" class="tl">3.41</text>
<text x="167.9" y="1144.2" textLength="116.5" lengthAdjust="spacingAndGlyphs" class="tl">3.415</text>
<text x="193.1" y="1001.3" textLength="90.3" lengthAdjust="spacingAndGlyphs" class="tl">3.42</text>
<text x="167.9" y="858.4" textLength="116.5" lengthAdjust="spacingAndGlyphs" class="tl">3.425</text>
<text x="193.1" y="715.5" textLength="90.3" lengthAdjust="spacingAndGlyphs" class="tl">3.43</text>
<text x="167.9" y="572.6" textLength="116.5" lengthAdjust="spacingAndGlyphs" class="tl">3.435</text>
<text x="193.1" y="429.7" textLength="90.3" lengthAdjust="spacingAndGlyphs" class="tl">3.44</text>
<text x="167.9" y="286.8" textLength="116.5" lengthAdjust="spacingAndGlyphs" class="tl">3.445</text>
<text x="193.1" y="143.9" textLength="90.3" lengthAdjust="spacingAndGlyphs" class="tl">3.45</text>
<text x="237" y="1616.8" textLength="133.7" lengthAdjust="spacingAndGlyphs" class="tl">04.01.</text>
<text x="463" y="1616.8" textLength="133.7" lengthAdjust="spacingAndGlyphs" class="tl">05.01.</text>
<text x="689" y="1616.8" textLength="133.7" lengthAdjust="spacingAndGlyphs" class="tl">06.01.</text>
<text x="915" y="1616.8" textLength="133.7" lengthAdjust="spacingAndGlyphs" class="tl">07.01.</text>
<text x="1141" y="1616.8" textLength="133.7" lengthAdjust="spacingAndGlyphs" class="tl">08.01.</text>
<text x="1367" y="1616.8" textLength="133.7" lengthAdjust="spacingAndGlyphs" class="tl">09.01.</text>
<text x="1593" y="1616.8" textLength="133.7" lengthAdjust="spacingAndGlyphs" class="tl">10.01.</text>
<text x="1819" y="1616.8" textLength="133.7" lengthAdjust="spacingAndGlyphs" class="tl">11.01.</text>
<text x="2045" y="1616.8" textLength="133.7" lengthAdjust="spacingAndGlyphs" class="tl">12.01.</text>
<text x="977.18" y="104.9" textLength="191.13" lengthAdjust="spacingAndGlyphs" class="tt">Electric</text>
<text x="1184.78" y="104.9" textLength="115.79" lengthAdjust="spacingAndGlyphs" class="tt">field</text>
<text x="1316.9" y="104.9" textLength="119.19" lengthAdjust="spacingAndGlyphs" class="tt">Var4</text>
</g>
</svg>
</body></html>
